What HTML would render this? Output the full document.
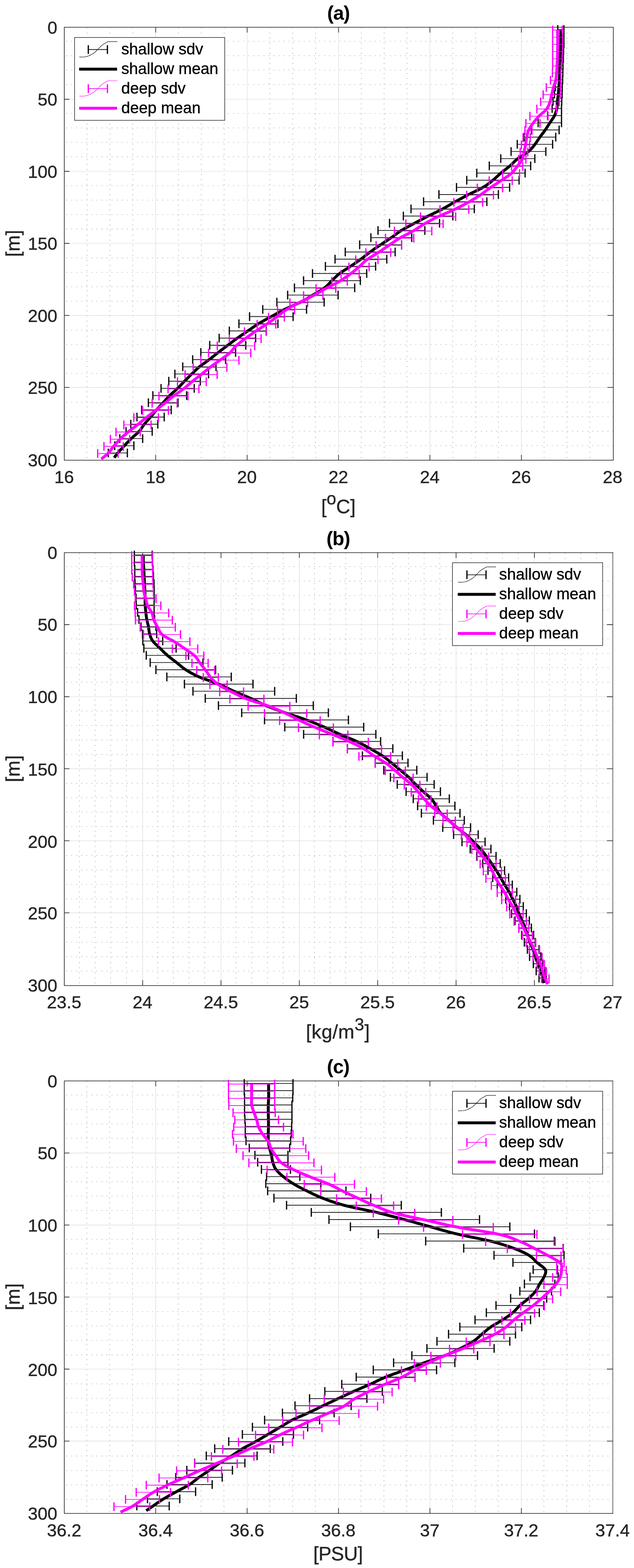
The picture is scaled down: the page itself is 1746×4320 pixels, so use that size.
<!DOCTYPE html>
<html lang="en">
<head>
<meta charset="utf-8">
<title>Shallow vs deep profiles</title>
<style>
html,body{margin:0;padding:0;background:#fff;}
body{width:1746px;height:4320px;overflow:hidden;}
svg{display:block;}
text{font-family:'Liberation Sans', sans-serif;}
.mn{fill:none;stroke:#c5c5c5;stroke-dasharray:3.2 10.72;}
.mnv{stroke-width:2.1;}
.mnh{stroke-width:1.8;stroke-dasharray:3.2 10.736;}
.axr{fill:none;stroke:#8c8c8c;stroke-width:2.9;}
.mj{fill:none;stroke:#e2e2e2;stroke-width:1.7;}
.ax{fill:none;stroke:#2a2a2a;stroke-width:1.8;stroke-linejoin:miter;}
.eb{fill:none;stroke-width:1.9;}
.cp{fill:none;stroke-width:3.5;}
.ic{fill:none;stroke-width:1.2;}
.mean{fill:none;stroke-width:8;stroke-linejoin:round;stroke-linecap:butt;}
.k{stroke:#000;}
.eb.k,.cp.k{stroke:#0a0a0a;}
.m{stroke:#ff00ff;}
.tl{font-size:48.7px;fill:#262626;stroke:#262626;stroke-width:0.6px;}
.al{font-size:53.6px;fill:#262626;stroke:#262626;stroke-width:0.6px;}
.sup{font-size:47.5px;}
.tt{font-size:53.4px;font-weight:bold;fill:#000;letter-spacing:-1.2px;}
.lt{font-size:43.7px;fill:#000;stroke:#000;stroke-width:0.5px;}
.lb{fill:#fff;stroke:#262626;stroke-width:1.6;}
</style>
</head>
<body>
<svg width="1746" height="4320" viewBox="0 0 1746 4320">
<rect x="0" y="0" width="1746" height="4320" fill="#fff"/>
<g class="panel" id="panel-a">
<path class="mn mnv" d="M239.7,75.6 V1267.9 M302.7,75.6 V1267.9 M365.6,75.6 V1267.9 M491.5,75.6 V1267.9 M554.4,75.6 V1267.9 M617.3,75.6 V1267.9 M743.2,75.6 V1267.9 M806.1,75.6 V1267.9 M869.1,75.6 V1267.9 M994.9,75.6 V1267.9 M1057.9,75.6 V1267.9 M1120.8,75.6 V1267.9 M1246.7,75.6 V1267.9 M1309.6,75.6 V1267.9 M1372.5,75.6 V1267.9 M1498.4,75.6 V1267.9 M1561.3,75.6 V1267.9 M1624.3,75.6 V1267.9"/>
<path class="mn mnh" d="M181.6,113.7 H1689 M181.6,153.5 H1689 M181.6,193.3 H1689 M181.6,233.1 H1689 M181.6,312.6 H1689 M181.6,352.4 H1689 M181.6,392.2 H1689 M181.6,432 H1689 M181.6,511.6 H1689 M181.6,551.4 H1689 M181.6,591.2 H1689 M181.6,631 H1689 M181.6,710.5 H1689 M181.6,750.3 H1689 M181.6,790.1 H1689 M181.6,829.9 H1689 M181.6,909.5 H1689 M181.6,949.3 H1689 M181.6,989.1 H1689 M181.6,1028.9 H1689 M181.6,1108.4 H1689 M181.6,1148.2 H1689 M181.6,1188 H1689 M181.6,1227.8 H1689"/>
<path class="mj" d="M428.8,75.1 V1267.9 M680.6,75.1 V1267.9 M932.3,75.1 V1267.9 M1184,75.1 V1267.9 M1435.8,75.1 V1267.9 M177.1,273.5 H1689 M177.1,472 H1689 M177.1,670.5 H1689 M177.1,868.9 H1689 M177.1,1067.3 H1689"/>
<path class="ax" d="M177.1,75.1 H1689 V1267.9 H177.1 Z M428.8,1267.9 v-14.7 M428.8,75.1 v14.7 M680.6,1267.9 v-14.7 M680.6,75.1 v14.7 M932.3,1267.9 v-14.7 M932.3,75.1 v14.7 M1184,1267.9 v-14.7 M1184,75.1 v14.7 M1435.8,1267.9 v-14.7 M1435.8,75.1 v14.7 M177.1,273.5 h14.2 M1689,273.5 h-16.2 M177.1,472 h14.2 M1689,472 h-16.2 M177.1,670.5 h14.2 M1689,670.5 h-16.2 M177.1,868.9 h14.2 M1689,868.9 h-16.2 M177.1,1067.3 h14.2 M1689,1067.3 h-16.2"/>
<path class="eb k" d="M1536,81.2 H1553 M1536,101 H1553 M1535.5,120.7 H1553 M1535,140.5 H1552 M1534.5,160.3 H1551.5 M1534,180.1 H1550.5 M1533,199.8 H1550 M1531.5,219.6 H1549.5 M1529.5,239.4 H1548.5 M1527,259.2 H1548 M1523,278.9 H1547 M1520.5,298.7 H1546.4 M1508,318.5 H1546.4 M1482,338.3 H1546.4 M1463.4,358 H1539.8 M1443.2,377.8 H1530.5 M1424.5,397.6 H1521.9 M1407.5,417.4 H1503.2 M1379,437.1 H1472.9 M1347.5,456.9 H1461.4 M1313,476.7 H1446.1 M1285.4,496.5 H1429.5 M1257.2,516.2 H1403.5 M1208.8,536 H1372.5 M1166.5,555.8 H1340.8 M1131.9,575.6 H1306.2 M1110.8,595.3 H1247.1 M1072.7,615.1 H1210.5 M1041,634.9 H1170 M1021.4,654.7 H1133.8 M990.5,674.5 H1105.8 M950.8,694.2 H1088.2 M922.7,714 H1065.2 M896.2,733.8 H1034.4 M860.6,753.5 H1009.9 M836,773.3 H992.3 M810.9,793.1 H976.8 M792.2,812.9 H931.1 M762.5,832.6 H892.7 M723.6,852.4 H844.2 M687.3,872.2 H807.2 M658,892 H765.4 M631.6,911.8 H733.4 M603.5,931.5 H704 M577.6,951.3 H676.8 M553.1,971.1 H648.8 M530.6,990.8 H621.4 M503.3,1010.6 H594.9 M481.6,1030.4 H574.4 M464.8,1050.2 H551.6 M443.5,1069.9 H534.9 M421,1089.7 H513.8 M408.6,1109.5 H490.2 M390.2,1129.3 H471.5 M377.2,1149 H452.2 M360.2,1168.8 H434.6 M347.1,1188.6 H419.1 M329.9,1208.4 H392.9 M315.9,1228.1 H368.7 M298.2,1247.9 H350.7"/>
<path class="cp k" d="M1536,69.2 v24 M1553,69.2 v24 M1536,89 v24 M1553,89 v24 M1535.5,108.7 v24 M1553,108.7 v24 M1535,128.5 v24 M1552,128.5 v24 M1534.5,148.3 v24 M1551.5,148.3 v24 M1534,168.1 v24 M1550.5,168.1 v24 M1533,187.8 v24 M1550,187.8 v24 M1531.5,207.6 v24 M1549.5,207.6 v24 M1529.5,227.4 v24 M1548.5,227.4 v24 M1527,247.2 v24 M1548,247.2 v24 M1523,266.9 v24 M1547,266.9 v24 M1520.5,286.7 v24 M1546.4,286.7 v24 M1508,306.5 v24 M1546.4,306.5 v24 M1482,326.3 v24 M1546.4,326.3 v24 M1463.4,346 v24 M1539.8,346 v24 M1443.2,365.8 v24 M1530.5,365.8 v24 M1424.5,385.6 v24 M1521.9,385.6 v24 M1407.5,405.4 v24 M1503.2,405.4 v24 M1379,425.1 v24 M1472.9,425.1 v24 M1347.5,444.9 v24 M1461.4,444.9 v24 M1313,464.7 v24 M1446.1,464.7 v24 M1285.4,484.5 v24 M1429.5,484.5 v24 M1257.2,504.2 v24 M1403.5,504.2 v24 M1208.8,524 v24 M1372.5,524 v24 M1166.5,543.8 v24 M1340.8,543.8 v24 M1131.9,563.6 v24 M1306.2,563.6 v24 M1110.8,583.3 v24 M1247.1,583.3 v24 M1072.7,603.1 v24 M1210.5,603.1 v24 M1041,622.9 v24 M1170,622.9 v24 M1021.4,642.7 v24 M1133.8,642.7 v24 M990.5,662.5 v24 M1105.8,662.5 v24 M950.8,682.2 v24 M1088.2,682.2 v24 M922.7,702 v24 M1065.2,702 v24 M896.2,721.8 v24 M1034.4,721.8 v24 M860.6,741.5 v24 M1009.9,741.5 v24 M836,761.3 v24 M992.3,761.3 v24 M810.9,781.1 v24 M976.8,781.1 v24 M792.2,800.9 v24 M931.1,800.9 v24 M762.5,820.6 v24 M892.7,820.6 v24 M723.6,840.4 v24 M844.2,840.4 v24 M687.3,860.2 v24 M807.2,860.2 v24 M658,880 v24 M765.4,880 v24 M631.6,899.8 v24 M733.4,899.8 v24 M603.5,919.5 v24 M704,919.5 v24 M577.6,939.3 v24 M676.8,939.3 v24 M553.1,959.1 v24 M648.8,959.1 v24 M530.6,978.8 v24 M621.4,978.8 v24 M503.3,998.6 v24 M594.9,998.6 v24 M481.6,1018.4 v24 M574.4,1018.4 v24 M464.8,1038.2 v24 M551.6,1038.2 v24 M443.5,1057.9 v24 M534.9,1057.9 v24 M421,1077.7 v24 M513.8,1077.7 v24 M408.6,1097.5 v24 M490.2,1097.5 v24 M390.2,1117.3 v24 M471.5,1117.3 v24 M377.2,1137 v24 M452.2,1137 v24 M360.2,1156.8 v24 M434.6,1156.8 v24 M347.1,1176.6 v24 M419.1,1176.6 v24 M329.9,1196.4 v24 M392.9,1196.4 v24 M315.9,1216.1 v24 M368.7,1216.1 v24 M298.2,1235.9 v24 M350.7,1235.9 v24"/>
<path class="mean k" d="M1544.5,81.2 L1544.5,83.4 L1544.5,86.3 L1544.5,89.9 L1544.5,93.7 L1544.5,97.5 L1544.5,101 L1544.5,104.3 L1544.5,107.6 L1544.4,110.9 L1544.4,114.2 L1544.3,117.5 L1544.2,120.7 L1544.2,124 L1544,127.3 L1543.9,130.6 L1543.8,133.9 L1543.6,137.2 L1543.5,140.5 L1543.4,143.8 L1543.3,147.1 L1543.2,150.4 L1543.2,153.7 L1543.1,157 L1543,160.3 L1542.9,163.6 L1542.8,166.9 L1542.6,170.2 L1542.5,173.5 L1542.4,176.8 L1542.2,180.1 L1542.1,183.4 L1542,186.7 L1541.9,190 L1541.8,193.3 L1541.6,196.6 L1541.5,199.8 L1541.4,203.1 L1541.2,206.4 L1541,209.7 L1540.9,213 L1540.7,216.3 L1540.5,219.6 L1540.3,222.9 L1540,226.2 L1539.8,229.5 L1539.5,232.8 L1539.3,236.1 L1539,239.4 L1538.8,242.7 L1538.5,246 L1538.3,249.3 L1538.1,252.6 L1537.8,255.9 L1537.5,259.2 L1537.1,262.5 L1536.7,265.8 L1536.3,269.1 L1535.8,272.4 L1535.4,275.7 L1535,278.9 L1534.7,282.2 L1534.6,285.5 L1534.5,288.8 L1534.3,292.1 L1534,295.4 L1533.5,298.7 L1532.8,302 L1532,305.3 L1531,308.6 L1530,311.9 L1528.7,315.2 L1527.2,318.5 L1525.4,321.8 L1523.4,325.1 L1521.1,328.4 L1518.8,331.7 L1516.4,335 L1514.2,338.3 L1512.1,341.6 L1510,344.9 L1508,348.2 L1505.9,351.5 L1503.8,354.8 L1501.6,358 L1499.3,361.3 L1496.8,364.6 L1494.3,367.9 L1491.8,371.2 L1489.3,374.5 L1486.8,377.8 L1484.6,381.1 L1482.4,384.4 L1480.2,387.7 L1478,391 L1475.7,394.3 L1473.2,397.6 L1470.6,400.9 L1468,404.2 L1465.3,407.5 L1462.3,410.8 L1459,414.1 L1455.3,417.4 L1451,420.7 L1446.1,424 L1440.9,427.3 L1435.6,430.6 L1430.5,433.9 L1426,437.1 L1421.9,440.4 L1418.3,443.7 L1414.9,447 L1411.6,450.3 L1408.1,453.6 L1404.5,456.9 L1400.5,460.2 L1396.3,463.5 L1392,466.8 L1387.8,470.1 L1383.6,473.4 L1379.5,476.7 L1375.8,480 L1372.2,483.3 L1368.6,486.6 L1365.1,489.9 L1361.4,493.2 L1357.5,496.5 L1353.4,499.8 L1349.3,503.1 L1345,506.4 L1340.5,509.7 L1335.7,513 L1330.3,516.2 L1324.4,519.5 L1318,522.8 L1311.1,526.1 L1304.2,529.4 L1297.3,532.7 L1290.7,536 L1284.3,539.3 L1278,542.6 L1271.8,545.9 L1265.7,549.2 L1259.6,552.5 L1253.7,555.8 L1247.8,559.1 L1242.1,562.4 L1236.5,565.7 L1230.9,569 L1225.1,572.3 L1219.1,575.6 L1212.7,578.9 L1206,582.2 L1199.2,585.5 L1192.3,588.8 L1185.5,592.1 L1178.9,595.3 L1172.6,598.6 L1166.2,601.9 L1160,605.2 L1153.9,608.5 L1147.7,611.8 L1141.6,615.1 L1135.4,618.4 L1129.2,621.7 L1123,625 L1116.9,628.3 L1111,631.6 L1105.5,634.9 L1100.4,638.2 L1095.6,641.5 L1091.1,644.8 L1086.7,648.1 L1082.2,651.4 L1077.6,654.7 L1072.8,658 L1067.9,661.3 L1062.9,664.6 L1058,667.9 L1053,671.2 L1048.2,674.5 L1043.3,677.7 L1038.4,681 L1033.6,684.3 L1028.8,687.6 L1024.1,690.9 L1019.5,694.2 L1015.1,697.5 L1010.9,700.8 L1006.7,704.1 L1002.6,707.4 L998.4,710.7 L994,714 L989.4,717.3 L984.7,720.6 L979.9,723.9 L975.1,727.2 L970.2,730.5 L965.3,733.8 L960.3,737.1 L955.1,740.4 L949.8,743.7 L944.7,747 L939.8,750.3 L935.2,753.5 L931.2,756.8 L927.5,760.1 L924.1,763.4 L920.8,766.7 L917.5,770 L914.1,773.3 L910.9,776.6 L907.8,779.9 L904.7,783.2 L901.5,786.5 L897.9,789.8 L893.8,793.1 L889.2,796.4 L884.1,799.7 L878.6,803 L873,806.3 L867.3,809.6 L861.7,812.9 L856.2,816.2 L850.8,819.5 L845.3,822.8 L839.7,826.1 L833.9,829.4 L827.6,832.6 L820.8,835.9 L813.5,839.2 L805.9,842.5 L798.3,845.8 L790.9,849.1 L783.9,852.4 L777.4,855.7 L771.1,859 L765.1,862.3 L759.1,865.6 L753.2,868.9 L747.2,872.2 L741.2,875.5 L735.1,878.8 L729,882.1 L723,885.4 L717.2,888.7 L711.7,892 L706.5,895.3 L701.5,898.6 L696.7,901.9 L692,905.2 L687.3,908.5 L682.5,911.8 L677.7,915 L672.8,918.3 L668,921.6 L663.2,924.9 L658.4,928.2 L653.8,931.5 L649.2,934.8 L644.7,938.1 L640.3,941.4 L635.9,944.7 L631.6,948 L627.2,951.3 L622.8,954.6 L618.4,957.9 L614,961.2 L609.6,964.5 L605.2,967.8 L601,971.1 L596.7,974.4 L592.6,977.7 L588.5,981 L584.4,984.3 L580.3,987.6 L576,990.8 L571.6,994.1 L567,997.4 L562.3,1000.7 L557.7,1004 L553.3,1007.3 L549.1,1010.6 L545.2,1013.9 L541.6,1017.2 L538.1,1020.5 L534.7,1023.8 L531.4,1027.1 L528,1030.4 L524.6,1033.7 L521.3,1037 L518,1040.3 L514.7,1043.6 L511.4,1046.9 L508.2,1050.2 L505,1053.5 L501.9,1056.8 L498.8,1060.1 L495.7,1063.4 L492.5,1066.7 L489.2,1069.9 L485.7,1073.2 L482,1076.5 L478.2,1079.8 L474.5,1083.1 L470.8,1086.4 L467.4,1089.7 L464.2,1093 L461.1,1096.3 L458.2,1099.6 L455.3,1102.9 L452.4,1106.2 L449.4,1109.5 L446.3,1112.8 L443.2,1116.1 L440,1119.4 L436.9,1122.7 L433.8,1126 L430.9,1129.3 L428,1132.6 L425.3,1135.9 L422.7,1139.2 L420.1,1142.5 L417.4,1145.8 L414.7,1149 L411.8,1152.3 L408.9,1155.6 L405.9,1158.9 L403,1162.2 L400.1,1165.5 L397.4,1168.8 L394.9,1172.1 L392.7,1175.4 L390.5,1178.7 L388.3,1182 L385.9,1185.3 L383.1,1188.6 L379.9,1191.9 L376.3,1195.2 L372.6,1198.5 L368.7,1201.8 L365,1205.1 L361.4,1208.4 L358.1,1211.7 L354.8,1215 L351.6,1218.3 L348.5,1221.6 L345.4,1224.9 L342.3,1228.1 L339.2,1231.5 L336,1235 L332.8,1238.5 L329.8,1241.8 L327,1245 L324.4,1247.9 L322.2,1250.6 L320.2,1253.3 L318.4,1255.7 L316.8,1257.9 L315.5,1259.7 L314.5,1261"/>
<path class="eb m" d="M1522,82.8 H1548.4 M1522,102.6 H1549.5 M1522,122.3 H1549.5 M1522,142.1 H1549 M1522,161.9 H1548 M1522,181.7 H1546 M1521.3,201.4 H1544.6 M1516,221.2 H1544.6 M1504.5,241 H1543.8 M1495.7,260.8 H1542.9 M1489,280.6 H1540.3 M1478.5,300.3 H1532.3 M1459.4,320.1 H1509.1 M1448.3,339.9 H1487.2 M1445.6,359.6 H1465.1 M1440.4,379.4 H1460.3 M1436,399.2 H1458.6 M1432.6,419 H1453.4 M1428.3,438.8 H1448.2 M1409.1,458.5 H1439.5 M1384.3,478.3 H1430.8 M1347.2,498.1 H1410.6 M1314.6,517.9 H1384.3 M1285.2,537.6 H1359 M1250,557.4 H1329.3 M1211.7,577.2 H1291 M1158,596.9 H1254.9 M1117.7,616.7 H1220.3 M1086.2,636.5 H1189.1 M1061.7,656.3 H1139.5 M1035.8,676.1 H1105.8 M1007.6,695.8 H1076.1 M979.6,715.6 H1041 M960.9,735.4 H1016.5 M939.2,755.1 H989.1 M913.8,774.9 H956.5 M870.5,794.7 H924.7 M836,814.5 H889.3 M798.5,834.2 H847.2 M764.2,854 H811.2 M739.6,873.8 H783 M708.1,893.6 H759.4 M673.2,913.4 H732.9 M631.6,933.1 H719 M598.3,952.9 H701.4 M574.4,972.7 H690.6 M553.1,992.4 H658 M532,1012.2 H624.8 M509.7,1032 H598 M488.8,1051.8 H568 M462.8,1071.5 H547.8 M437.8,1091.3 H517.6 M419,1111.1 H487.9 M392.8,1130.9 H463.7 M368.6,1150.6 H436.3 M341.1,1170.4 H416 M319.4,1190.2 H386.2 M304,1210 H357.2 M286.3,1229.7 H339.5 M269,1249.5 H325.1"/>
<path class="cp m" d="M1522,70.8 v24 M1548.4,70.8 v24 M1522,90.6 v24 M1549.5,90.6 v24 M1522,110.3 v24 M1549.5,110.3 v24 M1522,130.1 v24 M1549,130.1 v24 M1522,149.9 v24 M1548,149.9 v24 M1522,169.7 v24 M1546,169.7 v24 M1521.3,189.4 v24 M1544.6,189.4 v24 M1516,209.2 v24 M1544.6,209.2 v24 M1504.5,229 v24 M1543.8,229 v24 M1495.7,248.8 v24 M1542.9,248.8 v24 M1489,268.6 v24 M1540.3,268.6 v24 M1478.5,288.3 v24 M1532.3,288.3 v24 M1459.4,308.1 v24 M1509.1,308.1 v24 M1448.3,327.9 v24 M1487.2,327.9 v24 M1445.6,347.6 v24 M1465.1,347.6 v24 M1440.4,367.4 v24 M1460.3,367.4 v24 M1436,387.2 v24 M1458.6,387.2 v24 M1432.6,407 v24 M1453.4,407 v24 M1428.3,426.8 v24 M1448.2,426.8 v24 M1409.1,446.5 v24 M1439.5,446.5 v24 M1384.3,466.3 v24 M1430.8,466.3 v24 M1347.2,486.1 v24 M1410.6,486.1 v24 M1314.6,505.9 v24 M1384.3,505.9 v24 M1285.2,525.6 v24 M1359,525.6 v24 M1250,545.4 v24 M1329.3,545.4 v24 M1211.7,565.2 v24 M1291,565.2 v24 M1158,584.9 v24 M1254.9,584.9 v24 M1117.7,604.7 v24 M1220.3,604.7 v24 M1086.2,624.5 v24 M1189.1,624.5 v24 M1061.7,644.3 v24 M1139.5,644.3 v24 M1035.8,664.1 v24 M1105.8,664.1 v24 M1007.6,683.8 v24 M1076.1,683.8 v24 M979.6,703.6 v24 M1041,703.6 v24 M960.9,723.4 v24 M1016.5,723.4 v24 M939.2,743.1 v24 M989.1,743.1 v24 M913.8,762.9 v24 M956.5,762.9 v24 M870.5,782.7 v24 M924.7,782.7 v24 M836,802.5 v24 M889.3,802.5 v24 M798.5,822.2 v24 M847.2,822.2 v24 M764.2,842 v24 M811.2,842 v24 M739.6,861.8 v24 M783,861.8 v24 M708.1,881.6 v24 M759.4,881.6 v24 M673.2,901.4 v24 M732.9,901.4 v24 M631.6,921.1 v24 M719,921.1 v24 M598.3,940.9 v24 M701.4,940.9 v24 M574.4,960.7 v24 M690.6,960.7 v24 M553.1,980.4 v24 M658,980.4 v24 M532,1000.2 v24 M624.8,1000.2 v24 M509.7,1020 v24 M598,1020 v24 M488.8,1039.8 v24 M568,1039.8 v24 M462.8,1059.5 v24 M547.8,1059.5 v24 M437.8,1079.3 v24 M517.6,1079.3 v24 M419,1099.1 v24 M487.9,1099.1 v24 M392.8,1118.9 v24 M463.7,1118.9 v24 M368.6,1138.6 v24 M436.3,1138.6 v24 M341.1,1158.4 v24 M416,1158.4 v24 M319.4,1178.2 v24 M386.2,1178.2 v24 M304,1198 v24 M357.2,1198 v24 M286.3,1217.7 v24 M339.5,1217.7 v24 M269,1237.5 v24 M325.1,1237.5 v24"/>
<path class="mean m" d="M1535.2,82.8 L1535.3,85 L1535.4,87.9 L1535.5,91.5 L1535.6,95.3 L1535.7,99.1 L1535.8,102.6 L1535.8,105.9 L1535.8,109.2 L1535.8,112.5 L1535.8,115.8 L1535.8,119.1 L1535.8,122.3 L1535.7,125.6 L1535.7,128.9 L1535.7,132.2 L1535.6,135.5 L1535.6,138.8 L1535.5,142.1 L1535.4,145.4 L1535.4,148.7 L1535.3,152 L1535.2,155.3 L1535.1,158.6 L1535,161.9 L1534.9,165.2 L1534.7,168.5 L1534.5,171.8 L1534.4,175.1 L1534.2,178.4 L1534,181.7 L1533.8,185 L1533.7,188.3 L1533.6,191.6 L1533.4,194.9 L1533.2,198.2 L1532.9,201.4 L1532.6,204.7 L1532.3,208 L1531.9,211.3 L1531.5,214.6 L1531,217.9 L1530.3,221.2 L1529.5,224.5 L1528.5,227.8 L1527.4,231.1 L1526.2,234.4 L1525.1,237.7 L1524.2,241 L1523.3,244.3 L1522.4,247.6 L1521.6,250.9 L1520.9,254.2 L1520.1,257.5 L1519.3,260.8 L1518.6,264.1 L1517.9,267.4 L1517.3,270.7 L1516.5,274 L1515.7,277.3 L1514.7,280.6 L1513.5,283.8 L1512.3,287.1 L1511.1,290.4 L1509.5,293.7 L1507.7,297 L1505.4,300.3 L1502.5,303.6 L1499.1,306.9 L1495.3,310.2 L1491.4,313.5 L1487.6,316.8 L1484.2,320.1 L1481.2,323.4 L1478.3,326.7 L1475.5,330 L1472.8,333.3 L1470.2,336.6 L1467.8,339.9 L1465.4,343.2 L1463,346.5 L1460.8,349.8 L1458.8,353.1 L1456.9,356.4 L1455.3,359.6 L1454.1,362.9 L1453.1,366.2 L1452.3,369.5 L1451.6,372.8 L1451,376.1 L1450.3,379.4 L1449.7,382.7 L1449.2,386 L1448.8,389.3 L1448.3,392.6 L1447.9,395.9 L1447.3,399.2 L1446.7,402.5 L1446,405.8 L1445.3,409.1 L1444.5,412.4 L1443.8,415.7 L1443,419 L1442.3,422.3 L1441.8,425.6 L1441.2,428.9 L1440.5,432.2 L1439.6,435.5 L1438.2,438.8 L1436.5,442 L1434.4,445.3 L1432,448.6 L1429.5,451.9 L1426.9,455.2 L1424.3,458.5 L1421.8,461.8 L1419.4,465.1 L1416.8,468.4 L1414.1,471.7 L1411.1,475 L1407.5,478.3 L1403.5,481.6 L1398.9,484.9 L1394,488.2 L1389,491.5 L1383.9,494.8 L1378.9,498.1 L1374,501.4 L1369.1,504.7 L1364.1,508 L1359.1,511.3 L1354.2,514.6 L1349.4,517.9 L1344.8,521.1 L1340.4,524.4 L1336,527.7 L1331.5,531 L1326.9,534.3 L1322.1,537.6 L1317.1,540.9 L1311.9,544.2 L1306.6,547.5 L1301.1,550.8 L1295.5,554.1 L1289.7,557.4 L1283.7,560.7 L1277.6,564 L1271.3,567.3 L1264.8,570.6 L1258.2,573.9 L1251.3,577.2 L1244.2,580.5 L1236.6,583.8 L1228.8,587.1 L1221.1,590.4 L1213.6,593.7 L1206.5,596.9 L1199.7,600.2 L1193.2,603.5 L1186.9,606.8 L1180.8,610.1 L1174.8,613.4 L1169,616.7 L1163.5,620 L1158.3,623.3 L1153.3,626.6 L1148.3,629.9 L1143.1,633.2 L1137.7,636.5 L1131.7,639.8 L1125.5,643.1 L1119,646.4 L1112.6,649.7 L1106.4,653 L1100.6,656.3 L1095.2,659.6 L1090.1,662.9 L1085.2,666.2 L1080.4,669.5 L1075.6,672.8 L1070.8,676.1 L1066,679.3 L1061.2,682.6 L1056.4,685.9 L1051.7,689.2 L1046.8,692.5 L1041.8,695.8 L1036.6,699.1 L1031.2,702.4 L1025.6,705.7 L1020.2,709 L1015,712.3 L1010.3,715.6 L1006.2,718.9 L1002.5,722.2 L999.1,725.5 L995.8,728.8 L992.4,732.1 L988.7,735.4 L984.8,738.7 L980.9,742 L976.9,745.3 L972.8,748.6 L968.5,751.9 L964.2,755.1 L959.7,758.4 L955.1,761.7 L950.5,765 L945.6,768.3 L940.5,771.6 L935.1,774.9 L929.4,778.2 L923.2,781.5 L916.7,784.8 L910.2,788.1 L903.8,791.4 L897.6,794.7 L891.7,798 L885.9,801.3 L880.3,804.6 L874.6,807.9 L868.7,811.2 L862.6,814.5 L856.2,817.8 L849.6,821.1 L842.8,824.4 L836,827.7 L829.3,831 L822.9,834.2 L816.6,837.5 L810.5,840.8 L804.4,844.1 L798.6,847.4 L793,850.7 L787.7,854 L782.8,857.3 L778.3,860.6 L774,863.9 L769.9,867.2 L765.7,870.5 L761.3,873.8 L756.8,877.1 L752.3,880.4 L747.8,883.7 L743.2,887 L738.5,890.3 L733.8,893.6 L728.8,896.9 L723.6,900.2 L718.4,903.5 L713.2,906.8 L708,910.1 L703,913.4 L698.2,916.6 L693.5,919.9 L688.8,923.2 L684.3,926.5 L679.8,929.8 L675.3,933.1 L670.8,936.4 L666.3,939.7 L661.9,943 L657.6,946.3 L653.6,949.6 L649.8,952.9 L646.6,956.2 L643.8,959.5 L641.3,962.8 L638.7,966.1 L635.9,969.4 L632.5,972.7 L628.6,976 L624.2,979.3 L619.6,982.6 L614.9,985.9 L610.2,989.2 L605.5,992.4 L601,995.7 L596.4,999 L591.8,1002.3 L587.3,1005.6 L582.8,1008.9 L578.4,1012.2 L574.2,1015.5 L570.1,1018.8 L566,1022.1 L562,1025.4 L558,1028.7 L553.9,1032 L549.6,1035.3 L545.3,1038.6 L541,1041.9 L536.7,1045.2 L532.5,1048.5 L528.4,1051.8 L524.5,1055.1 L520.7,1058.4 L517,1061.7 L513.2,1065 L509.4,1068.3 L505.3,1071.5 L500.9,1074.8 L496.3,1078.1 L491.6,1081.4 L486.8,1084.7 L482.2,1088 L477.7,1091.3 L473.5,1094.6 L469.4,1097.9 L465.4,1101.2 L461.5,1104.5 L457.5,1107.8 L453.4,1111.1 L449.3,1114.4 L445.1,1117.7 L440.9,1121 L436.7,1124.3 L432.5,1127.6 L428.2,1130.9 L424,1134.2 L419.6,1137.5 L415.3,1140.8 L410.9,1144.1 L406.6,1147.4 L402.5,1150.6 L398.4,1153.9 L394.4,1157.2 L390.5,1160.5 L386.6,1163.8 L382.6,1167.1 L378.6,1170.4 L374.3,1173.7 L370,1177 L365.6,1180.3 L361.2,1183.6 L356.9,1186.9 L352.8,1190.2 L348.8,1193.5 L345,1196.8 L341.2,1200.1 L337.5,1203.4 L334,1206.7 L330.6,1210 L327.4,1213.3 L324.3,1216.6 L321.4,1219.9 L318.5,1223.2 L315.7,1226.5 L312.9,1229.7 L310.2,1233.1 L307.6,1236.5 L305,1239.9 L302.4,1243.3 L299.8,1246.5 L297.1,1249.5 L294,1252.5 L290.5,1255.4 L287,1258.2 L283.8,1260.8 L281,1262.9 L279,1264.5"/>
<text class="tl" x="176.6" y="1330.7" text-anchor="middle">16</text>
<text class="tl" x="428.3" y="1330.7" text-anchor="middle">18</text>
<text class="tl" x="680.1" y="1330.7" text-anchor="middle">20</text>
<text class="tl" x="931.8" y="1330.7" text-anchor="middle">22</text>
<text class="tl" x="1183.5" y="1330.7" text-anchor="middle">24</text>
<text class="tl" x="1435.3" y="1330.7" text-anchor="middle">26</text>
<text class="tl" x="1687" y="1330.7" text-anchor="middle">28</text>
<text class="tl" x="157.9" y="92.8" text-anchor="end">0</text>
<text class="tl" x="157.9" y="291.2" text-anchor="end">50</text>
<text class="tl" x="157.9" y="489.7" text-anchor="end">100</text>
<text class="tl" x="157.9" y="688.1" text-anchor="end">150</text>
<text class="tl" x="157.9" y="886.6" text-anchor="end">200</text>
<text class="tl" x="157.9" y="1085" text-anchor="end">250</text>
<text class="tl" x="157.9" y="1285.3" text-anchor="end">300</text>
<text class="tt" x="931.9" y="54.1" text-anchor="middle">(a)</text>
<text class="al" transform="translate(53.5,670.5) rotate(-90)" text-anchor="middle">[m]</text>
<text class="al" x="932" y="1413.9" text-anchor="middle">[<tspan class="sup" dy="-24">o</tspan><tspan dy="24">C]</tspan></text>
<g class="legend" transform="translate(205.4,103.3)">
<rect class="lb" x="0" y="0" width="413.5" height="228.2"/>
<g transform="translate(0,0)">
<path class="eb k" d="M38,33.2 H90.5"/>
<path class="cp k" d="M37.8,21.2 v24 M90.4,21.2 v24"/>
<path class="ic k" d="M13,53.8 L15.5,53.8 L19,53.8 L22.9,53.8 L26.5,53.5 L29.6,53.1 L32.5,52.6 L35.4,51.8 L38.6,50.7 L42.2,49.1 L46.1,47.1 L49.9,44.9 L53.4,42.6 L56.4,40.2 L59.1,37.7 L61.6,35.1 L64.2,32.5 L66.9,29.8 L69.6,26.9 L72.2,24.2 L74.9,21.8 L77.7,19.8 L80.5,18 L83.3,16.5 L85.7,15.1 L87.6,13.9 L89.2,12.9 L90.8,12.2 L92.4,11.6 L94,11.3 L95.5,11.3 L97.4,11.4 L100,11.4 L104.2,11.4 L109.4,11.4 L114.4,11.4 L117.9,11.4"/>
</g>
<text class="lt" x="128.5" y="46.8">shallow sdv</text>
<g transform="translate(0,0)">
<path class="mean k" d="M12.5,87.1 H117"/>
</g>
<text class="lt" x="128.5" y="100.7">shallow mean</text>
<g transform="translate(0,0)">
<path class="eb m" d="M38,141 H90.5"/>
<path class="cp m" d="M37.8,129 v24 M90.4,129 v24"/>
<path class="ic m" d="M13,161.6 L15.5,161.6 L19,161.6 L22.9,161.6 L26.5,161.3 L29.6,160.9 L32.5,160.4 L35.4,159.6 L38.6,158.5 L42.2,156.9 L46.1,154.9 L49.9,152.7 L53.4,150.4 L56.4,148 L59.1,145.5 L61.6,142.9 L64.2,140.3 L66.9,137.6 L69.6,134.7 L72.2,132 L74.9,129.6 L77.7,127.6 L80.5,125.8 L83.3,124.3 L85.7,122.9 L87.6,121.7 L89.2,120.7 L90.8,120 L92.4,119.4 L94,119.1 L95.5,119.1 L97.4,119.2 L100,119.2 L104.2,119.2 L109.4,119.2 L114.4,119.2 L117.9,119.2"/>
</g>
<text class="lt" x="128.5" y="154.6">deep sdv</text>
<g transform="translate(0,0)">
<path class="mean m" d="M12.5,194.9 H117"/>
</g>
<text class="lt" x="128.5" y="208.5">deep mean</text>
</g>
</g>
<g class="panel" id="panel-b">
<path class="mn mnv" d="M218.7,1523.1 V2715.3 M261.8,1523.1 V2715.3 M305,1523.1 V2715.3 M348.1,1523.1 V2715.3 M434.4,1523.1 V2715.3 M477.6,1523.1 V2715.3 M520.7,1523.1 V2715.3 M563.9,1523.1 V2715.3 M650.2,1523.1 V2715.3 M693.4,1523.1 V2715.3 M736.5,1523.1 V2715.3 M779.7,1523.1 V2715.3 M866,1523.1 V2715.3 M909.1,1523.1 V2715.3 M952.3,1523.1 V2715.3 M995.4,1523.1 V2715.3 M1081.7,1523.1 V2715.3 M1124.9,1523.1 V2715.3 M1168,1523.1 V2715.3 M1211.2,1523.1 V2715.3 M1297.5,1523.1 V2715.3 M1340.7,1523.1 V2715.3 M1383.8,1523.1 V2715.3 M1427,1523.1 V2715.3 M1513.3,1523.1 V2715.3 M1556.4,1523.1 V2715.3 M1599.6,1523.1 V2715.3 M1642.7,1523.1 V2715.3"/>
<path class="mn mnh" d="M181.6,1561.2 H1687.6 M181.6,1601 H1687.6 M181.6,1640.8 H1687.6 M181.6,1680.6 H1687.6 M181.6,1760.1 H1687.6 M181.6,1799.9 H1687.6 M181.6,1839.7 H1687.6 M181.6,1879.5 H1687.6 M181.6,1959.1 H1687.6 M181.6,1998.9 H1687.6 M181.6,2038.7 H1687.6 M181.6,2078.5 H1687.6 M181.6,2158 H1687.6 M181.6,2197.8 H1687.6 M181.6,2237.6 H1687.6 M181.6,2277.4 H1687.6 M181.6,2357 H1687.6 M181.6,2396.8 H1687.6 M181.6,2436.6 H1687.6 M181.6,2476.4 H1687.6 M181.6,2555.9 H1687.6 M181.6,2595.7 H1687.6 M181.6,2635.5 H1687.6 M181.6,2675.3 H1687.6"/>
<path class="mj" d="M392.9,1522.6 V2715.3 M608.6,1522.6 V2715.3 M824.4,1522.6 V2715.3 M1040.2,1522.6 V2715.3 M1256,1522.6 V2715.3 M1471.7,1522.6 V2715.3 M177.1,1721 H1687.6 M177.1,1919.5 H1687.6 M177.1,2117.9 H1687.6 M177.1,2316.4 H1687.6 M177.1,2514.8 H1687.6"/>
<path class="axr" d="M1687.6,1522.6 V2715.3"/>
<path class="ax" d="M1689,1522.6 H177.1 V2715.3 H1689 M392.9,2715.3 v-14.7 M392.9,1522.6 v14.7 M608.6,2715.3 v-14.7 M608.6,1522.6 v14.7 M824.4,2715.3 v-14.7 M824.4,1522.6 v14.7 M1040.2,2715.3 v-14.7 M1040.2,1522.6 v14.7 M1256,2715.3 v-14.7 M1256,1522.6 v14.7 M1471.7,2715.3 v-14.7 M1471.7,1522.6 v14.7 M177.1,1721 h14.2 M1687.6,1721 h-16.2 M177.1,1919.5 h14.2 M1687.6,1919.5 h-16.2 M177.1,2117.9 h14.2 M1687.6,2117.9 h-16.2 M177.1,2316.4 h14.2 M1687.6,2316.4 h-16.2 M177.1,2514.8 h14.2 M1687.6,2514.8 h-16.2"/>
<path class="eb k" d="M370,1529 H419.1 M370,1548.8 H419.5 M371.2,1568.5 H421.4 M371.2,1588.3 H422.6 M371.9,1608 H424.2 M373,1627.8 H424.9 M374.7,1647.6 H424.6 M375.2,1667.3 H424.4 M378.9,1687.1 H424.4 M382.7,1706.8 H425.9 M388.4,1726.6 H429.3 M392.4,1746.4 H431.6 M393.3,1766.1 H448.1 M396.2,1785.9 H485 M402.8,1805.6 H519.3 M413.6,1825.4 H559 M429.4,1845.2 H593.7 M459.5,1864.9 H636.9 M507.9,1884.7 H696.7 M531.4,1904.4 H756.4 M565.3,1924.2 H816.1 M601.6,1944 H862.8 M665.6,1963.7 H904.3 M728.5,1983.5 H959.5 M784.3,2003.2 H1001.6 M836.2,2023 H1035.1 M917,2042.8 H1048.2 M956.6,2062.5 H1081.8 M998.1,2082.3 H1108.1 M1033.4,2102 H1123.6 M1056.9,2121.8 H1147.8 M1075.2,2141.6 H1176.1 M1094,2161.3 H1195.6 M1118.4,2181.1 H1212.9 M1138.1,2200.8 H1237.4 M1150.1,2220.6 H1252.7 M1160.5,2240.4 H1266.8 M1193.6,2260.1 H1278.6 M1219.3,2279.9 H1295.9 M1249.2,2299.6 H1316.9 M1272.3,2319.4 H1335.9 M1294.9,2339.2 H1352 M1312.8,2358.9 H1366.1 M1329.5,2378.7 H1377.6 M1343.9,2398.4 H1389.5 M1356.9,2418.2 H1400.7 M1369.3,2438 H1410.8 M1381.4,2457.7 H1423.2 M1392.7,2477.5 H1431.8 M1403,2497.2 H1441.1 M1408.9,2517 H1449.5 M1418.4,2536.8 H1457.7 M1428.8,2556.5 H1463.4 M1436.6,2576.3 H1469.4 M1444,2596 H1474 M1452.4,2615.8 H1484.4 M1458.4,2635.6 H1489.5 M1468.8,2655.3 H1494.7 M1476.6,2675.1 H1500.6 M1484.4,2694.8 H1504.4"/>
<path class="cp k" d="M370,1517 v24 M419.1,1517 v24 M370,1536.8 v24 M419.5,1536.8 v24 M371.2,1556.5 v24 M421.4,1556.5 v24 M371.2,1576.3 v24 M422.6,1576.3 v24 M371.9,1596 v24 M424.2,1596 v24 M373,1615.8 v24 M424.9,1615.8 v24 M374.7,1635.6 v24 M424.6,1635.6 v24 M375.2,1655.3 v24 M424.4,1655.3 v24 M378.9,1675.1 v24 M424.4,1675.1 v24 M382.7,1694.8 v24 M425.9,1694.8 v24 M388.4,1714.6 v24 M429.3,1714.6 v24 M392.4,1734.4 v24 M431.6,1734.4 v24 M393.3,1754.1 v24 M448.1,1754.1 v24 M396.2,1773.9 v24 M485,1773.9 v24 M402.8,1793.6 v24 M519.3,1793.6 v24 M413.6,1813.4 v24 M559,1813.4 v24 M429.4,1833.2 v24 M593.7,1833.2 v24 M459.5,1852.9 v24 M636.9,1852.9 v24 M507.9,1872.7 v24 M696.7,1872.7 v24 M531.4,1892.4 v24 M756.4,1892.4 v24 M565.3,1912.2 v24 M816.1,1912.2 v24 M601.6,1932 v24 M862.8,1932 v24 M665.6,1951.7 v24 M904.3,1951.7 v24 M728.5,1971.5 v24 M959.5,1971.5 v24 M784.3,1991.2 v24 M1001.6,1991.2 v24 M836.2,2011 v24 M1035.1,2011 v24 M917,2030.8 v24 M1048.2,2030.8 v24 M956.6,2050.5 v24 M1081.8,2050.5 v24 M998.1,2070.3 v24 M1108.1,2070.3 v24 M1033.4,2090 v24 M1123.6,2090 v24 M1056.9,2109.8 v24 M1147.8,2109.8 v24 M1075.2,2129.6 v24 M1176.1,2129.6 v24 M1094,2149.3 v24 M1195.6,2149.3 v24 M1118.4,2169.1 v24 M1212.9,2169.1 v24 M1138.1,2188.8 v24 M1237.4,2188.8 v24 M1150.1,2208.6 v24 M1252.7,2208.6 v24 M1160.5,2228.4 v24 M1266.8,2228.4 v24 M1193.6,2248.1 v24 M1278.6,2248.1 v24 M1219.3,2267.9 v24 M1295.9,2267.9 v24 M1249.2,2287.6 v24 M1316.9,2287.6 v24 M1272.3,2307.4 v24 M1335.9,2307.4 v24 M1294.9,2327.2 v24 M1352,2327.2 v24 M1312.8,2346.9 v24 M1366.1,2346.9 v24 M1329.5,2366.7 v24 M1377.6,2366.7 v24 M1343.9,2386.4 v24 M1389.5,2386.4 v24 M1356.9,2406.2 v24 M1400.7,2406.2 v24 M1369.3,2426 v24 M1410.8,2426 v24 M1381.4,2445.7 v24 M1423.2,2445.7 v24 M1392.7,2465.5 v24 M1431.8,2465.5 v24 M1403,2485.2 v24 M1441.1,2485.2 v24 M1408.9,2505 v24 M1449.5,2505 v24 M1418.4,2524.8 v24 M1457.7,2524.8 v24 M1428.8,2544.5 v24 M1463.4,2544.5 v24 M1436.6,2564.3 v24 M1469.4,2564.3 v24 M1444,2584 v24 M1474,2584 v24 M1452.4,2603.8 v24 M1484.4,2603.8 v24 M1458.4,2623.6 v24 M1489.5,2623.6 v24 M1468.8,2643.3 v24 M1494.7,2643.3 v24 M1476.6,2663.1 v24 M1500.6,2663.1 v24 M1484.4,2682.8 v24 M1504.4,2682.8 v24"/>
<path class="mean k" d="M394.6,1529 L394.6,1531.1 L394.6,1534.1 L394.6,1537.6 L394.6,1541.4 L394.6,1545.2 L394.8,1548.8 L394.9,1552.1 L395.2,1555.3 L395.5,1558.6 L395.8,1561.9 L396.1,1565.2 L396.3,1568.5 L396.4,1571.8 L396.5,1575.1 L396.6,1578.4 L396.7,1581.7 L396.8,1585 L396.9,1588.3 L397.1,1591.6 L397.3,1594.9 L397.5,1598.2 L397.7,1601.5 L397.9,1604.7 L398,1608 L398.2,1611.3 L398.4,1614.6 L398.5,1617.9 L398.7,1621.2 L398.8,1624.5 L398.9,1627.8 L399.1,1631.1 L399.2,1634.4 L399.3,1637.7 L399.5,1641 L399.6,1644.3 L399.6,1647.6 L399.7,1650.9 L399.7,1654.1 L399.7,1657.4 L399.6,1660.7 L399.7,1664 L399.8,1667.3 L400,1670.6 L400.3,1673.9 L400.6,1677.2 L400.9,1680.5 L401.3,1683.8 L401.6,1687.1 L402,1690.4 L402.4,1693.7 L402.8,1697 L403.2,1700.3 L403.7,1703.5 L404.3,1706.8 L405,1710.1 L405.7,1713.4 L406.5,1716.7 L407.4,1720 L408.2,1723.3 L408.9,1726.6 L409.4,1729.9 L409.8,1733.2 L410.2,1736.5 L410.6,1739.8 L411.2,1743.1 L412,1746.4 L413,1749.7 L414.1,1752.9 L415.3,1756.2 L416.8,1759.5 L418.5,1762.8 L420.7,1766.1 L423.4,1769.4 L426.5,1772.7 L429.9,1776 L433.5,1779.3 L437.1,1782.6 L440.6,1785.9 L443.9,1789.2 L447.2,1792.5 L450.5,1795.8 L453.9,1799.1 L457.4,1802.3 L461,1805.6 L465,1808.9 L469.1,1812.2 L473.4,1815.5 L477.7,1818.8 L482,1822.1 L486.3,1825.4 L490.4,1828.7 L494.3,1832 L498.2,1835.3 L502.3,1838.6 L506.7,1841.9 L511.6,1845.2 L516.8,1848.5 L522.3,1851.7 L528.1,1855 L534.3,1858.3 L540.9,1861.6 L548.2,1864.9 L556.4,1868.2 L565.4,1871.5 L574.9,1874.8 L584.5,1878.1 L593.8,1881.4 L602.3,1884.7 L609.9,1888 L616.9,1891.3 L623.6,1894.6 L630.1,1897.9 L636.8,1901.1 L643.9,1904.4 L651.5,1907.7 L659.3,1911 L667.3,1914.3 L675.3,1917.6 L683.1,1920.9 L690.7,1924.2 L697.8,1927.5 L704.5,1930.8 L711.1,1934.1 L717.7,1937.4 L724.7,1940.7 L732.2,1944 L740.3,1947.3 L748.7,1950.5 L757.5,1953.8 L766.5,1957.1 L775.7,1960.4 L785,1963.7 L794.5,1967 L804.5,1970.3 L814.7,1973.6 L824.8,1976.9 L834.7,1980.2 L844,1983.5 L852.8,1986.8 L861.3,1990.1 L869.5,1993.4 L877.5,1996.7 L885.3,1999.9 L893,2003.2 L900.4,2006.5 L907.5,2009.8 L914.4,2013.1 L921.3,2016.4 L928.4,2019.7 L935.6,2023 L943.3,2026.3 L951.4,2029.6 L959.5,2032.9 L967.6,2036.2 L975.3,2039.5 L982.6,2042.8 L989.3,2046.1 L995.7,2049.3 L1001.7,2052.6 L1007.6,2055.9 L1013.4,2059.2 L1019.2,2062.5 L1025.1,2065.8 L1031,2069.1 L1036.9,2072.4 L1042.5,2075.7 L1048,2079 L1053.1,2082.3 L1057.8,2085.6 L1062.3,2088.9 L1066.4,2092.2 L1070.5,2095.5 L1074.5,2098.7 L1078.5,2102 L1082.6,2105.3 L1086.6,2108.6 L1090.6,2111.9 L1094.5,2115.2 L1098.4,2118.5 L1102.3,2121.8 L1106.3,2125.1 L1110.3,2128.4 L1114.3,2131.7 L1118.2,2135 L1122,2138.3 L1125.7,2141.6 L1129.1,2144.9 L1132.3,2148.1 L1135.4,2151.4 L1138.4,2154.7 L1141.6,2158 L1144.8,2161.3 L1148.2,2164.6 L1151.6,2167.9 L1155,2171.2 L1158.5,2174.5 L1162.1,2177.8 L1165.7,2181.1 L1169.4,2184.4 L1173.2,2187.7 L1177.1,2191 L1181,2194.3 L1184.5,2197.5 L1187.8,2200.8 L1190.5,2204.1 L1193,2207.4 L1195.2,2210.7 L1197.3,2214 L1199.3,2217.3 L1201.4,2220.6 L1203.4,2223.9 L1205.2,2227.2 L1207,2230.5 L1208.9,2233.8 L1211,2237.1 L1213.7,2240.4 L1216.8,2243.7 L1220.4,2246.9 L1224.3,2250.2 L1228.3,2253.5 L1232.3,2256.8 L1236.1,2260.1 L1239.7,2263.4 L1243.2,2266.7 L1246.7,2270 L1250.2,2273.3 L1253.8,2276.6 L1257.6,2279.9 L1261.7,2283.2 L1266,2286.5 L1270.4,2289.8 L1274.7,2293.1 L1279,2296.3 L1283.1,2299.6 L1286.8,2302.9 L1290.5,2306.2 L1294,2309.5 L1297.4,2312.8 L1300.7,2316.1 L1304.1,2319.4 L1307.5,2322.7 L1310.8,2326 L1314.1,2329.3 L1317.3,2332.6 L1320.4,2335.9 L1323.5,2339.2 L1326.3,2342.5 L1329.1,2345.7 L1331.8,2349 L1334.4,2352.3 L1336.9,2355.6 L1339.4,2358.9 L1341.9,2362.2 L1344.3,2365.5 L1346.7,2368.8 L1349,2372.1 L1351.3,2375.4 L1353.5,2378.7 L1355.8,2382 L1358,2385.3 L1360.2,2388.6 L1362.4,2391.9 L1364.6,2395.1 L1366.7,2398.4 L1368.8,2401.7 L1370.8,2405 L1372.9,2408.3 L1374.9,2411.6 L1376.8,2414.9 L1378.8,2418.2 L1380.7,2421.5 L1382.6,2424.8 L1384.4,2428.1 L1386.3,2431.4 L1388.1,2434.7 L1390,2438 L1392.1,2441.3 L1394.1,2444.5 L1396.3,2447.8 L1398.3,2451.1 L1400.4,2454.4 L1402.3,2457.7 L1404.1,2461 L1405.8,2464.3 L1407.4,2467.6 L1409,2470.9 L1410.6,2474.2 L1412.2,2477.5 L1413.9,2480.8 L1415.6,2484.1 L1417.3,2487.4 L1419,2490.7 L1420.6,2493.9 L1422,2497.2 L1423.4,2500.5 L1424.6,2503.8 L1425.7,2507.1 L1426.8,2510.4 L1427.9,2513.7 L1429.2,2517 L1430.6,2520.3 L1432.1,2523.6 L1433.6,2526.9 L1435.1,2530.2 L1436.6,2533.5 L1438.1,2536.8 L1439.5,2540.1 L1440.8,2543.3 L1442.2,2546.6 L1443.5,2549.9 L1444.8,2553.2 L1446.1,2556.5 L1447.3,2559.8 L1448.5,2563.1 L1449.7,2566.4 L1450.8,2569.7 L1451.9,2573 L1453,2576.3 L1454,2579.6 L1454.9,2582.9 L1455.8,2586.2 L1456.8,2589.5 L1457.8,2592.7 L1459,2596 L1460.4,2599.3 L1462,2602.6 L1463.7,2605.9 L1465.4,2609.2 L1467,2612.5 L1468.4,2615.8 L1469.5,2619.1 L1470.5,2622.4 L1471.3,2625.7 L1472.1,2629 L1472.9,2632.3 L1474,2635.6 L1475.1,2638.9 L1476.4,2642.1 L1477.8,2645.4 L1479.1,2648.7 L1480.5,2652 L1481.8,2655.3 L1483,2658.6 L1484.1,2661.9 L1485.3,2665.2 L1486.4,2668.5 L1487.5,2671.8 L1488.6,2675.1 L1489.7,2678.4 L1490.7,2681.9 L1491.7,2685.3 L1492.7,2688.7 L1493.6,2691.9 L1494.4,2694.8 L1495.2,2697.6 L1495.9,2700.4 L1496.6,2702.9 L1497.1,2705.2 L1497.6,2707.1 L1498,2708.5"/>
<path class="eb m" d="M362.7,1530.7 H420.3 M362.7,1550.5 H420.3 M362.7,1570.2 H420.3 M364.3,1590 H420.7 M368,1609.7 H421.4 M370.3,1629.5 H422.6 M372.5,1649.3 H429.7 M370.3,1669 H442.9 M372.3,1688.8 H464.5 M373.1,1708.5 H474.6 M386.1,1728.3 H482.7 M395.3,1748.1 H497.1 M436.5,1767.8 H523 M474.6,1787.6 H544.6 M512,1807.3 H561.3 M528.7,1827.1 H573.2 M541.8,1846.9 H591.2 M559.8,1866.6 H601.3 M578.1,1886.4 H625.5 M605,1906.1 H670.8 M633.1,1925.9 H726.8 M683.3,1945.7 H798.2 M728.5,1965.4 H844.8 M770.1,1985.2 H881.7 M822,2004.9 H918 M879.4,2024.7 H958.1 M916.8,2044.5 H1014.4 M956.6,2064.2 H1050.7 M988.4,2084 H1075.9 M1033.4,2103.7 H1095.6 M1061,2123.5 H1116.4 M1084.6,2143.3 H1137.7 M1113.4,2163 H1156.3 M1132.6,2182.8 H1172.3 M1152.2,2202.5 H1187 M1174,2222.3 H1203.4 M1197,2242.1 H1231.6 M1220.1,2261.8 H1253.8 M1247.5,2281.6 H1275.4 M1270.5,2301.3 H1293.6 M1286,2321.1 H1310 M1299.3,2340.9 H1327.2 M1314.2,2360.6 H1345.9 M1322.3,2380.4 H1366.1 M1331,2400.1 H1380.8 M1338.2,2419.9 H1392 M1353.1,2439.7 H1402.1 M1369.3,2459.4 H1410.8 M1381.6,2479.2 H1419.8 M1395.4,2498.9 H1429.6 M1404,2518.7 H1440.4 M1415.8,2538.5 H1449.5 M1428.8,2558.2 H1456.5 M1438.5,2578 H1466 M1449.2,2597.7 H1475.4 M1457.6,2617.5 H1486.1 M1467.9,2637.3 H1493 M1479.2,2657 H1499.1 M1485.2,2676.8 H1504.8 M1491.3,2696.5 H1512"/>
<path class="cp m" d="M362.7,1518.7 v24 M420.3,1518.7 v24 M362.7,1538.5 v24 M420.3,1538.5 v24 M362.7,1558.2 v24 M420.3,1558.2 v24 M364.3,1578 v24 M420.7,1578 v24 M368,1597.7 v24 M421.4,1597.7 v24 M370.3,1617.5 v24 M422.6,1617.5 v24 M372.5,1637.3 v24 M429.7,1637.3 v24 M370.3,1657 v24 M442.9,1657 v24 M372.3,1676.8 v24 M464.5,1676.8 v24 M373.1,1696.5 v24 M474.6,1696.5 v24 M386.1,1716.3 v24 M482.7,1716.3 v24 M395.3,1736.1 v24 M497.1,1736.1 v24 M436.5,1755.8 v24 M523,1755.8 v24 M474.6,1775.6 v24 M544.6,1775.6 v24 M512,1795.3 v24 M561.3,1795.3 v24 M528.7,1815.1 v24 M573.2,1815.1 v24 M541.8,1834.9 v24 M591.2,1834.9 v24 M559.8,1854.6 v24 M601.3,1854.6 v24 M578.1,1874.4 v24 M625.5,1874.4 v24 M605,1894.1 v24 M670.8,1894.1 v24 M633.1,1913.9 v24 M726.8,1913.9 v24 M683.3,1933.7 v24 M798.2,1933.7 v24 M728.5,1953.4 v24 M844.8,1953.4 v24 M770.1,1973.2 v24 M881.7,1973.2 v24 M822,1992.9 v24 M918,1992.9 v24 M879.4,2012.7 v24 M958.1,2012.7 v24 M916.8,2032.5 v24 M1014.4,2032.5 v24 M956.6,2052.2 v24 M1050.7,2052.2 v24 M988.4,2072 v24 M1075.9,2072 v24 M1033.4,2091.7 v24 M1095.6,2091.7 v24 M1061,2111.5 v24 M1116.4,2111.5 v24 M1084.6,2131.3 v24 M1137.7,2131.3 v24 M1113.4,2151 v24 M1156.3,2151 v24 M1132.6,2170.8 v24 M1172.3,2170.8 v24 M1152.2,2190.5 v24 M1187,2190.5 v24 M1174,2210.3 v24 M1203.4,2210.3 v24 M1197,2230.1 v24 M1231.6,2230.1 v24 M1220.1,2249.8 v24 M1253.8,2249.8 v24 M1247.5,2269.6 v24 M1275.4,2269.6 v24 M1270.5,2289.3 v24 M1293.6,2289.3 v24 M1286,2309.1 v24 M1310,2309.1 v24 M1299.3,2328.9 v24 M1327.2,2328.9 v24 M1314.2,2348.6 v24 M1345.9,2348.6 v24 M1322.3,2368.4 v24 M1366.1,2368.4 v24 M1331,2388.1 v24 M1380.8,2388.1 v24 M1338.2,2407.9 v24 M1392,2407.9 v24 M1353.1,2427.7 v24 M1402.1,2427.7 v24 M1369.3,2447.4 v24 M1410.8,2447.4 v24 M1381.6,2467.2 v24 M1419.8,2467.2 v24 M1395.4,2486.9 v24 M1429.6,2486.9 v24 M1404,2506.7 v24 M1440.4,2506.7 v24 M1415.8,2526.5 v24 M1449.5,2526.5 v24 M1428.8,2546.2 v24 M1456.5,2546.2 v24 M1438.5,2566 v24 M1466,2566 v24 M1449.2,2585.7 v24 M1475.4,2585.7 v24 M1457.6,2605.5 v24 M1486.1,2605.5 v24 M1467.9,2625.3 v24 M1493,2625.3 v24 M1479.2,2645 v24 M1499.1,2645 v24 M1485.2,2664.8 v24 M1504.8,2664.8 v24 M1491.3,2684.5 v24 M1512,2684.5 v24"/>
<path class="mean m" d="M391.5,1530.7 L391.5,1532.8 L391.5,1535.8 L391.5,1539.3 L391.5,1543.1 L391.5,1546.9 L391.5,1550.5 L391.5,1553.8 L391.5,1557 L391.4,1560.3 L391.4,1563.6 L391.4,1566.9 L391.5,1570.2 L391.6,1573.5 L391.7,1576.8 L391.9,1580.1 L392,1583.4 L392.3,1586.7 L392.5,1590 L392.8,1593.3 L393.2,1596.6 L393.6,1599.9 L394,1603.2 L394.3,1606.4 L394.7,1609.7 L395,1613 L395.2,1616.3 L395.4,1619.6 L395.7,1622.9 L396,1626.2 L396.5,1629.5 L397,1632.8 L397.8,1636.1 L398.5,1639.4 L399.4,1642.7 L400.2,1646 L401.1,1649.3 L401.9,1652.6 L402.6,1655.8 L403.4,1659.1 L404.3,1662.4 L405.3,1665.7 L406.6,1669 L408.3,1672.3 L410.3,1675.6 L412.5,1678.9 L414.7,1682.2 L416.7,1685.5 L418.4,1688.8 L419.6,1692.1 L420.5,1695.4 L421.2,1698.7 L421.9,1702 L422.7,1705.2 L423.9,1708.5 L425.3,1711.8 L426.9,1715.1 L428.7,1718.4 L430.6,1721.7 L432.5,1725 L434.4,1728.3 L436,1731.6 L437.4,1734.9 L438.9,1738.2 L440.6,1741.5 L443,1744.8 L446.2,1748.1 L450.6,1751.4 L455.9,1754.6 L461.8,1757.9 L468,1761.2 L474.1,1764.5 L479.8,1767.8 L485,1771.1 L490.1,1774.4 L495.1,1777.7 L500,1781 L504.8,1784.3 L509.6,1787.6 L514.4,1790.9 L519.3,1794.2 L524.1,1797.5 L528.7,1800.8 L532.9,1804 L536.6,1807.3 L539.8,1810.6 L542.3,1813.9 L544.5,1817.2 L546.6,1820.5 L548.6,1823.8 L551,1827.1 L553.5,1830.4 L556.1,1833.7 L558.7,1837 L561.4,1840.3 L564,1843.6 L566.5,1846.9 L568.8,1850.2 L571,1853.4 L573.2,1856.7 L575.4,1860 L577.8,1863.3 L580.5,1866.6 L583.5,1869.9 L586.5,1873.2 L589.8,1876.5 L593.3,1879.8 L597.3,1883.1 L601.8,1886.4 L606.9,1889.7 L612.5,1893 L618.5,1896.3 L624.9,1899.6 L631.4,1902.8 L637.9,1906.1 L644.3,1909.4 L650.8,1912.7 L657.4,1916 L664.3,1919.3 L671.8,1922.6 L680,1925.9 L689.2,1929.2 L699.4,1932.5 L710.1,1935.8 L720.9,1939.1 L731.3,1942.4 L740.8,1945.7 L749.3,1949 L757.4,1952.2 L765,1955.5 L772.4,1958.8 L779.6,1962.1 L786.6,1965.4 L793.5,1968.7 L800,1972 L806.4,1975.3 L812.7,1978.6 L819.2,1981.9 L825.9,1985.2 L832.9,1988.5 L840.1,1991.8 L847.4,1995.1 L854.8,1998.4 L862.3,2001.6 L870,2004.9 L877.9,2008.2 L886,2011.5 L894.2,2014.8 L902.5,2018.1 L910.7,2021.4 L918.8,2024.7 L926.8,2028 L934.8,2031.3 L942.8,2034.6 L950.7,2037.9 L958.3,2041.2 L965.6,2044.5 L972.6,2047.8 L979.3,2051 L985.8,2054.3 L992,2057.6 L998,2060.9 L1003.7,2064.2 L1008.9,2067.5 L1013.7,2070.8 L1018.3,2074.1 L1022.7,2077.4 L1027.3,2080.7 L1032.2,2084 L1037.4,2087.3 L1043,2090.6 L1048.6,2093.9 L1054.2,2097.2 L1059.5,2100.4 L1064.5,2103.7 L1069,2107 L1073.2,2110.3 L1077.2,2113.6 L1081.1,2116.9 L1084.9,2120.2 L1088.7,2123.5 L1092.5,2126.8 L1096.3,2130.1 L1100,2133.4 L1103.6,2136.7 L1107.4,2140 L1111.2,2143.3 L1115.1,2146.6 L1119.2,2149.8 L1123.3,2153.1 L1127.4,2156.4 L1131.2,2159.7 L1134.8,2163 L1138.1,2166.3 L1141.2,2169.6 L1144.1,2172.9 L1146.8,2176.2 L1149.6,2179.5 L1152.4,2182.8 L1155.3,2186.1 L1158.1,2189.4 L1160.9,2192.7 L1163.8,2196 L1166.6,2199.2 L1169.6,2202.5 L1172.6,2205.8 L1175.6,2209.1 L1178.6,2212.4 L1181.8,2215.7 L1185.1,2219 L1188.7,2222.3 L1192.6,2225.6 L1196.9,2228.9 L1201.3,2232.2 L1205.7,2235.5 L1210.1,2238.8 L1214.3,2242.1 L1218.2,2245.4 L1222,2248.6 L1225.7,2251.9 L1229.4,2255.2 L1233.1,2258.5 L1236.9,2261.8 L1241,2265.1 L1245.1,2268.4 L1249.3,2271.7 L1253.5,2275 L1257.6,2278.3 L1261.5,2281.6 L1265.2,2284.9 L1268.8,2288.2 L1272.3,2291.5 L1275.7,2294.8 L1278.9,2298 L1282,2301.3 L1285,2304.6 L1287.7,2307.9 L1290.4,2311.2 L1292.9,2314.5 L1295.4,2317.8 L1298,2321.1 L1300.6,2324.4 L1303.1,2327.7 L1305.6,2331 L1308.1,2334.3 L1310.6,2337.6 L1313.2,2340.9 L1316,2344.2 L1318.8,2347.4 L1321.7,2350.7 L1324.6,2354 L1327.4,2357.3 L1330.1,2360.6 L1332.6,2363.9 L1335.1,2367.2 L1337.4,2370.5 L1339.8,2373.8 L1342,2377.1 L1344.2,2380.4 L1346.3,2383.7 L1348.4,2387 L1350.4,2390.3 L1352.3,2393.6 L1354.1,2396.8 L1355.9,2400.1 L1357.5,2403.4 L1359,2406.7 L1360.4,2410 L1361.9,2413.3 L1363.4,2416.6 L1365.1,2419.9 L1367,2423.2 L1369,2426.5 L1371.1,2429.8 L1373.3,2433.1 L1375.5,2436.4 L1377.6,2439.7 L1379.7,2443 L1381.8,2446.2 L1383.9,2449.5 L1386,2452.8 L1388.1,2456.1 L1390,2459.4 L1391.9,2462.7 L1393.7,2466 L1395.4,2469.3 L1397.1,2472.6 L1398.9,2475.9 L1400.7,2479.2 L1402.6,2482.5 L1404.6,2485.8 L1406.7,2489.1 L1408.7,2492.4 L1410.6,2495.6 L1412.5,2498.9 L1414.2,2502.2 L1415.9,2505.5 L1417.4,2508.8 L1419,2512.1 L1420.6,2515.4 L1422.2,2518.7 L1423.9,2522 L1425.6,2525.3 L1427.4,2528.6 L1429.2,2531.9 L1430.9,2535.2 L1432.7,2538.5 L1434.3,2541.8 L1436,2545 L1437.7,2548.3 L1439.4,2551.6 L1441,2554.9 L1442.7,2558.2 L1444.3,2561.5 L1445.9,2564.8 L1447.4,2568.1 L1449,2571.4 L1450.6,2574.7 L1452.2,2578 L1453.9,2581.3 L1455.6,2584.6 L1457.3,2587.9 L1459,2591.2 L1460.6,2594.4 L1462.3,2597.7 L1463.9,2601 L1465.6,2604.3 L1467.2,2607.6 L1468.8,2610.9 L1470.3,2614.2 L1471.8,2617.5 L1473.3,2620.8 L1474.8,2624.1 L1476.2,2627.4 L1477.6,2630.7 L1479,2634 L1480.5,2637.3 L1481.9,2640.6 L1483.4,2643.8 L1485,2647.1 L1486.5,2650.4 L1487.9,2653.7 L1489.2,2657 L1490.3,2660.3 L1491.3,2663.6 L1492.2,2666.9 L1493.1,2670.2 L1494,2673.5 L1495,2676.8 L1496.1,2680.1 L1497.2,2683.5 L1498.3,2687 L1499.4,2690.3 L1500.6,2693.5 L1501.7,2696.5 L1502.8,2699.5 L1503.9,2702.4 L1505.1,2705.3 L1506.2,2707.8 L1507,2709.9 L1507.7,2711.5"/>
<text class="tl" x="176.6" y="2778.1" text-anchor="middle">23.5</text>
<text class="tl" x="392.4" y="2778.1" text-anchor="middle">24</text>
<text class="tl" x="608.1" y="2778.1" text-anchor="middle">24.5</text>
<text class="tl" x="823.9" y="2778.1" text-anchor="middle">25</text>
<text class="tl" x="1039.7" y="2778.1" text-anchor="middle">25.5</text>
<text class="tl" x="1255.5" y="2778.1" text-anchor="middle">26</text>
<text class="tl" x="1471.2" y="2778.1" text-anchor="middle">26.5</text>
<text class="tl" x="1687" y="2778.1" text-anchor="middle">27</text>
<text class="tl" x="157.9" y="1539.9" text-anchor="end">0</text>
<text class="tl" x="157.9" y="1738.3" text-anchor="end">50</text>
<text class="tl" x="157.9" y="1937" text-anchor="end">100</text>
<text class="tl" x="157.9" y="2137.3" text-anchor="end">150</text>
<text class="tl" x="157.9" y="2335.6" text-anchor="end">200</text>
<text class="tl" x="157.9" y="2532.8" text-anchor="end">250</text>
<text class="tl" x="157.9" y="2732.3" text-anchor="end">300</text>
<text class="tt" x="931.2" y="1501.6" text-anchor="middle">(b)</text>
<text class="al" transform="translate(53.5,2117.9) rotate(-90)" text-anchor="middle">[m]</text>
<text class="al" x="930.8" y="2861.3" text-anchor="middle" style="letter-spacing:0.6px">[kg/m<tspan class="sup" dy="-22.5">3</tspan><tspan dy="22.5">]</tspan></text>
<g class="legend" transform="translate(1246.1,1550.4)">
<rect class="lb" x="0" y="0" width="413.5" height="228.2"/>
<g transform="translate(2,0)">
<path class="eb k" d="M38,33.2 H90.5"/>
<path class="cp k" d="M37.8,21.2 v24 M90.4,21.2 v24"/>
<path class="ic k" d="M13,53.8 L15.5,53.8 L19,53.8 L22.9,53.8 L26.5,53.5 L29.6,53.1 L32.5,52.6 L35.4,51.8 L38.6,50.7 L42.2,49.1 L46.1,47.1 L49.9,44.9 L53.4,42.6 L56.4,40.2 L59.1,37.7 L61.6,35.1 L64.2,32.5 L66.9,29.8 L69.6,26.9 L72.2,24.2 L74.9,21.8 L77.7,19.8 L80.5,18 L83.3,16.5 L85.7,15.1 L87.6,13.9 L89.2,12.9 L90.8,12.2 L92.4,11.6 L94,11.3 L95.5,11.3 L97.4,11.4 L100,11.4 L104.2,11.4 L109.4,11.4 L114.4,11.4 L117.9,11.4"/>
</g>
<text class="lt" x="128.5" y="46.8">shallow sdv</text>
<g transform="translate(2,0)">
<path class="mean k" d="M12.5,87.1 H117"/>
</g>
<text class="lt" x="128.5" y="100.7">shallow mean</text>
<g transform="translate(2,0)">
<path class="eb m" d="M38,141 H90.5"/>
<path class="cp m" d="M37.8,129 v24 M90.4,129 v24"/>
<path class="ic m" d="M13,161.6 L15.5,161.6 L19,161.6 L22.9,161.6 L26.5,161.3 L29.6,160.9 L32.5,160.4 L35.4,159.6 L38.6,158.5 L42.2,156.9 L46.1,154.9 L49.9,152.7 L53.4,150.4 L56.4,148 L59.1,145.5 L61.6,142.9 L64.2,140.3 L66.9,137.6 L69.6,134.7 L72.2,132 L74.9,129.6 L77.7,127.6 L80.5,125.8 L83.3,124.3 L85.7,122.9 L87.6,121.7 L89.2,120.7 L90.8,120 L92.4,119.4 L94,119.1 L95.5,119.1 L97.4,119.2 L100,119.2 L104.2,119.2 L109.4,119.2 L114.4,119.2 L117.9,119.2"/>
</g>
<text class="lt" x="128.5" y="154.6">deep sdv</text>
<g transform="translate(2,0)">
<path class="mean m" d="M12.5,194.9 H117"/>
</g>
<text class="lt" x="128.5" y="208.5">deep mean</text>
</g>
</g>
<g class="panel" id="panel-c">
<path class="mn mnv" d="M239.1,2978.7 V4169.7 M302.1,2978.7 V4169.7 M365,2978.7 V4169.7 M490.9,2978.7 V4169.7 M553.8,2978.7 V4169.7 M616.7,2978.7 V4169.7 M742.6,2978.7 V4169.7 M805.5,2978.7 V4169.7 M868.5,2978.7 V4169.7 M994.3,2978.7 V4169.7 M1057.3,2978.7 V4169.7 M1120.2,2978.7 V4169.7 M1246.1,2978.7 V4169.7 M1309,2978.7 V4169.7 M1371.9,2978.7 V4169.7 M1497.8,2978.7 V4169.7 M1560.7,2978.7 V4169.7 M1623.7,2978.7 V4169.7"/>
<path class="mn mnh" d="M181.6,3016.8 H1687.6 M181.6,3056.6 H1687.6 M181.6,3096.4 H1687.6 M181.6,3136.2 H1687.6 M181.6,3215.7 H1687.6 M181.6,3255.5 H1687.6 M181.6,3295.3 H1687.6 M181.6,3335.1 H1687.6 M181.6,3414.7 H1687.6 M181.6,3454.5 H1687.6 M181.6,3494.3 H1687.6 M181.6,3534.1 H1687.6 M181.6,3613.6 H1687.6 M181.6,3653.4 H1687.6 M181.6,3693.2 H1687.6 M181.6,3733 H1687.6 M181.6,3812.6 H1687.6 M181.6,3852.4 H1687.6 M181.6,3892.2 H1687.6 M181.6,3932 H1687.6 M181.6,4011.5 H1687.6 M181.6,4051.3 H1687.6 M181.6,4091.1 H1687.6 M181.6,4130.9 H1687.6"/>
<path class="mj" d="M428.8,2978.2 V4169.7 M680.6,2978.2 V4169.7 M932.3,2978.2 V4169.7 M1184,2978.2 V4169.7 M1435.8,2978.2 V4169.7 M177.1,3176.6 H1687.6 M177.1,3375.1 H1687.6 M177.1,3573.5 H1687.6 M177.1,3772 H1687.6 M177.1,3970.4 H1687.6"/>
<path class="axr" d="M1687.6,2978.2 V4169.7"/>
<path class="ax" d="M1689,2978.2 H177.1 V4169.7 H1689 M428.8,4169.7 v-14.7 M428.8,2978.2 v14.7 M680.6,4169.7 v-14.7 M680.6,2978.2 v14.7 M932.3,4169.7 v-14.7 M932.3,2978.2 v14.7 M1184,4169.7 v-14.7 M1184,2978.2 v14.7 M1435.8,4169.7 v-14.7 M1435.8,2978.2 v14.7 M177.1,3176.6 h14.2 M1687.6,3176.6 h-16.2 M177.1,3375.1 h14.2 M1687.6,3375.1 h-16.2 M177.1,3573.5 h14.2 M1687.6,3573.5 h-16.2 M177.1,3772 h14.2 M1687.6,3772 h-16.2 M177.1,3970.4 h14.2 M1687.6,3970.4 h-16.2"/>
<path class="eb k" d="M672.6,2985.1 H806.9 M672.6,3004.8 H806.9 M673.5,3024.6 H806.1 M673.5,3044.3 H804 M673.5,3064 H804 M674.4,3083.8 H804 M675.5,3103.5 H803.2 M675.4,3123.2 H802 M677.5,3142.9 H800.4 M686.5,3162.7 H797.8 M702,3182.4 H793 M709.6,3202.1 H793 M720,3221.9 H799.9 M734.2,3241.6 H825.8 M732,3261.3 H883.6 M737.1,3281 H952.8 M754.4,3300.8 H1021 M789.2,3320.5 H1105.1 M857.3,3340.2 H1215.5 M906,3360 H1320.6 M965,3379.7 H1404.1 M1041.8,3399.4 H1471.9 M1172.3,3419.2 H1526.6 M1277,3438.9 H1551 M1360.5,3458.6 H1553.3 M1412.6,3478.3 H1545 M1468.3,3498.1 H1535.3 M1459.6,3517.8 H1537.3 M1444.2,3537.5 H1528 M1431.6,3557.3 H1518.8 M1406.3,3577 H1505.5 M1366,3596.7 H1497.4 M1339.4,3616.5 H1485.3 M1308.2,3636.2 H1461.1 M1266.4,3655.9 H1436.9 M1235.3,3675.7 H1419.6 M1203.4,3695.4 H1404 M1175.7,3715.1 H1360.8 M1134.2,3734.8 H1315.2 M1084,3754.6 H1252.6 M1028,3774.3 H1202.3 M981,3794 H1142.8 M941.2,3813.8 H1097.9 M894.6,3833.5 H1052.9 M852.5,3853.2 H1010.4 M812.4,3872.9 H967.1 M777.8,3892.7 H920.2 M728.7,3912.4 H880.2 M695.2,3932.1 H847.3 M667.5,3951.9 H808.2 M629.9,3971.6 H778.8 M591.3,3991.3 H744.3 M568.1,4011.1 H708 M535.9,4030.8 H674.4 M514.5,4050.5 H640.1 M484,4070.2 H612 M459.8,4090 H584.3 M433.2,4109.7 H538.7 M406.2,4129.4 H495.1 M376.8,4149.2 H466"/>
<path class="cp k" d="M672.6,2973.1 v24 M806.9,2973.1 v24 M672.6,2992.8 v24 M806.9,2992.8 v24 M673.5,3012.6 v24 M806.1,3012.6 v24 M673.5,3032.3 v24 M804,3032.3 v24 M673.5,3052 v24 M804,3052 v24 M674.4,3071.8 v24 M804,3071.8 v24 M675.5,3091.5 v24 M803.2,3091.5 v24 M675.4,3111.2 v24 M802,3111.2 v24 M677.5,3130.9 v24 M800.4,3130.9 v24 M686.5,3150.7 v24 M797.8,3150.7 v24 M702,3170.4 v24 M793,3170.4 v24 M709.6,3190.1 v24 M793,3190.1 v24 M720,3209.9 v24 M799.9,3209.9 v24 M734.2,3229.6 v24 M825.8,3229.6 v24 M732,3249.3 v24 M883.6,3249.3 v24 M737.1,3269 v24 M952.8,3269 v24 M754.4,3288.8 v24 M1021,3288.8 v24 M789.2,3308.5 v24 M1105.1,3308.5 v24 M857.3,3328.2 v24 M1215.5,3328.2 v24 M906,3348 v24 M1320.6,3348 v24 M965,3367.7 v24 M1404.1,3367.7 v24 M1041.8,3387.4 v24 M1471.9,3387.4 v24 M1172.3,3407.2 v24 M1526.6,3407.2 v24 M1277,3426.9 v24 M1551,3426.9 v24 M1360.5,3446.6 v24 M1553.3,3446.6 v24 M1412.6,3466.3 v24 M1545,3466.3 v24 M1468.3,3486.1 v24 M1535.3,3486.1 v24 M1459.6,3505.8 v24 M1537.3,3505.8 v24 M1444.2,3525.5 v24 M1528,3525.5 v24 M1431.6,3545.3 v24 M1518.8,3545.3 v24 M1406.3,3565 v24 M1505.5,3565 v24 M1366,3584.7 v24 M1497.4,3584.7 v24 M1339.4,3604.5 v24 M1485.3,3604.5 v24 M1308.2,3624.2 v24 M1461.1,3624.2 v24 M1266.4,3643.9 v24 M1436.9,3643.9 v24 M1235.3,3663.7 v24 M1419.6,3663.7 v24 M1203.4,3683.4 v24 M1404,3683.4 v24 M1175.7,3703.1 v24 M1360.8,3703.1 v24 M1134.2,3722.8 v24 M1315.2,3722.8 v24 M1084,3742.6 v24 M1252.6,3742.6 v24 M1028,3762.3 v24 M1202.3,3762.3 v24 M981,3782 v24 M1142.8,3782 v24 M941.2,3801.8 v24 M1097.9,3801.8 v24 M894.6,3821.5 v24 M1052.9,3821.5 v24 M852.5,3841.2 v24 M1010.4,3841.2 v24 M812.4,3860.9 v24 M967.1,3860.9 v24 M777.8,3880.7 v24 M920.2,3880.7 v24 M728.7,3900.4 v24 M880.2,3900.4 v24 M695.2,3920.1 v24 M847.3,3920.1 v24 M667.5,3939.9 v24 M808.2,3939.9 v24 M629.9,3959.6 v24 M778.8,3959.6 v24 M591.3,3979.3 v24 M744.3,3979.3 v24 M568.1,3999.1 v24 M708,3999.1 v24 M535.9,4018.8 v24 M674.4,4018.8 v24 M514.5,4038.5 v24 M640.1,4038.5 v24 M484,4058.2 v24 M612,4058.2 v24 M459.8,4078 v24 M584.3,4078 v24 M433.2,4097.7 v24 M538.7,4097.7 v24 M406.2,4117.4 v24 M495.1,4117.4 v24 M376.8,4137.2 v24 M466,4137.2 v24"/>
<path class="mean k" d="M739.8,2985.1 L739.7,2987.2 L739.7,2990.2 L739.7,2993.7 L739.7,2997.5 L739.7,3001.3 L739.8,3004.8 L739.8,3008.1 L739.8,3011.4 L739.8,3014.7 L739.9,3018 L739.9,3021.3 L739.8,3024.6 L739.7,3027.8 L739.5,3031.1 L739.3,3034.4 L739.1,3037.7 L738.9,3041 L738.8,3044.3 L738.7,3047.6 L738.7,3050.9 L738.7,3054.2 L738.7,3057.4 L738.7,3060.7 L738.8,3064 L738.8,3067.3 L738.9,3070.6 L739,3073.9 L739.1,3077.2 L739.1,3080.5 L739.2,3083.8 L739.3,3087 L739.3,3090.3 L739.3,3093.6 L739.4,3096.9 L739.4,3100.2 L739.4,3103.5 L739.3,3106.8 L739.2,3110.1 L739,3113.3 L738.9,3116.6 L738.8,3119.9 L738.7,3123.2 L738.7,3126.5 L738.6,3129.8 L738.6,3133.1 L738.6,3136.4 L738.7,3139.7 L739,3142.9 L739.3,3146.2 L739.7,3149.5 L740.2,3152.8 L740.8,3156.1 L741.5,3159.4 L742.1,3162.7 L742.9,3166 L743.8,3169.2 L744.8,3172.5 L745.8,3175.8 L746.7,3179.1 L747.5,3182.4 L748.2,3185.7 L748.7,3189 L749.2,3192.3 L749.7,3195.6 L750.4,3198.8 L751.3,3202.1 L752.3,3205.4 L753.4,3208.7 L754.6,3212 L756,3215.3 L757.8,3218.6 L760,3221.9 L762.5,3225.1 L765.5,3228.4 L768.8,3231.7 L772.3,3235 L776.1,3238.3 L780,3241.6 L784.1,3244.9 L788.3,3248.2 L792.8,3251.5 L797.6,3254.7 L802.5,3258 L807.8,3261.3 L813.4,3264.6 L819.3,3267.9 L825.4,3271.2 L831.8,3274.5 L838.3,3277.8 L845,3281 L851.6,3284.3 L858.2,3287.6 L864.9,3290.9 L872,3294.2 L879.5,3297.5 L887.7,3300.8 L896.3,3304.1 L905.2,3307.4 L914.5,3310.6 L924.5,3313.9 L935.3,3317.2 L947.1,3320.5 L960.4,3323.8 L975.1,3327.1 L990.7,3330.4 L1006.5,3333.7 L1021.9,3337 L1036.4,3340.2 L1050,3343.5 L1063.2,3346.8 L1076,3350.1 L1088.5,3353.4 L1101,3356.7 L1113.3,3360 L1125.5,3363.3 L1137.4,3366.5 L1149.2,3369.8 L1160.9,3373.1 L1172.7,3376.4 L1184.5,3379.7 L1196.3,3383 L1207.8,3386.3 L1219.4,3389.6 L1231.2,3392.9 L1243.6,3396.1 L1256.8,3399.4 L1271.4,3402.7 L1287.3,3406 L1303.6,3409.3 L1319.9,3412.6 L1335.4,3415.9 L1349.4,3419.2 L1362.1,3422.4 L1373.8,3425.7 L1384.8,3429 L1395.1,3432.3 L1404.8,3435.6 L1414,3438.9 L1422.6,3442.2 L1430.7,3445.5 L1438.1,3448.8 L1445,3452 L1451.2,3455.3 L1456.9,3458.6 L1461.8,3461.9 L1465.7,3465.2 L1469.1,3468.5 L1472.2,3471.8 L1475.3,3475.1 L1478.8,3478.3 L1482.9,3481.6 L1487.4,3484.9 L1491.9,3488.2 L1496,3491.5 L1499.5,3494.8 L1501.8,3498.1 L1502.9,3501.4 L1503,3504.7 L1502.3,3507.9 L1501.2,3511.2 L1499.8,3514.5 L1498.4,3517.8 L1496.9,3521.1 L1494.9,3524.4 L1492.7,3527.7 L1490.4,3531 L1488.2,3534.3 L1486.1,3537.5 L1484.3,3540.8 L1482.7,3544.1 L1481.1,3547.4 L1479.4,3550.7 L1477.5,3554 L1475.2,3557.3 L1472.5,3560.6 L1469.6,3563.8 L1466.4,3567.1 L1463,3570.4 L1459.5,3573.7 L1455.9,3577 L1452.1,3580.3 L1448,3583.6 L1443.8,3586.9 L1439.6,3590.2 L1435.5,3593.4 L1431.7,3596.7 L1428.3,3600 L1425.2,3603.3 L1422.2,3606.6 L1419.2,3609.9 L1416,3613.2 L1412.3,3616.5 L1408.3,3619.7 L1403.9,3623 L1399.4,3626.3 L1394.6,3629.6 L1389.7,3632.9 L1384.7,3636.2 L1379.4,3639.5 L1373.7,3642.8 L1367.9,3646.1 L1362.2,3649.3 L1356.7,3652.6 L1351.7,3655.9 L1347.1,3659.2 L1342.9,3662.5 L1339,3665.8 L1335.2,3669.1 L1331.4,3672.4 L1327.4,3675.7 L1323.6,3678.9 L1319.9,3682.2 L1316.3,3685.5 L1312.5,3688.8 L1308.3,3692.1 L1303.7,3695.4 L1298.6,3698.7 L1293.1,3702 L1287.2,3705.2 L1281.1,3708.5 L1274.8,3711.8 L1268.2,3715.1 L1261.6,3718.4 L1254.8,3721.7 L1247.8,3725 L1240.5,3728.3 L1232.8,3731.6 L1224.7,3734.8 L1216,3738.1 L1206.7,3741.4 L1197.1,3744.7 L1187.3,3748 L1177.7,3751.3 L1168.3,3754.6 L1159.3,3757.9 L1150.3,3761.1 L1141.5,3764.4 L1132.8,3767.7 L1124,3771 L1115.2,3774.3 L1106.2,3777.6 L1097,3780.9 L1087.9,3784.2 L1078.8,3787.5 L1070.1,3790.7 L1061.9,3794 L1054.3,3797.3 L1047.1,3800.6 L1040.3,3803.9 L1033.5,3807.2 L1026.7,3810.5 L1019.6,3813.8 L1012.1,3817 L1004.4,3820.3 L996.6,3823.6 L988.9,3826.9 L981.2,3830.2 L973.8,3833.5 L966.5,3836.8 L959.4,3840.1 L952.3,3843.4 L945.4,3846.6 L938.4,3849.9 L931.5,3853.2 L924.5,3856.5 L917.5,3859.8 L910.5,3863.1 L903.6,3866.4 L896.6,3869.7 L889.8,3872.9 L882.9,3876.2 L876.2,3879.5 L869.6,3882.8 L862.8,3886.1 L856,3889.4 L849,3892.7 L841.7,3896 L834,3899.3 L826.3,3902.5 L818.6,3905.8 L811.3,3909.1 L804.5,3912.4 L798.3,3915.7 L792.6,3919 L787.2,3922.3 L781.9,3925.6 L776.7,3928.9 L771.2,3932.1 L765.7,3935.4 L760.1,3938.7 L754.6,3942 L749,3945.3 L743.4,3948.6 L737.9,3951.9 L732.3,3955.2 L726.8,3958.4 L721.3,3961.7 L715.7,3965 L710.1,3968.3 L704.3,3971.6 L698.4,3974.9 L692.1,3978.2 L685.8,3981.5 L679.6,3984.8 L673.5,3988 L667.8,3991.3 L662.5,3994.6 L657.5,3997.9 L652.7,4001.2 L647.9,4004.5 L643.1,4007.8 L638,4011.1 L632.7,4014.3 L627.1,4017.6 L621.5,4020.9 L615.9,4024.2 L610.4,4027.5 L605.1,4030.8 L600.2,4034.1 L595.5,4037.4 L591,4040.7 L586.5,4043.9 L582,4047.2 L577.3,4050.5 L572.5,4053.8 L567.5,4057.1 L562.5,4060.4 L557.6,4063.7 L552.7,4067 L548,4070.2 L543.6,4073.5 L539.5,4076.8 L535.4,4080.1 L531.3,4083.4 L526.9,4086.7 L522,4090 L516.6,4093.3 L510.7,4096.6 L504.6,4099.8 L498.3,4103.1 L492,4106.4 L486,4109.7 L480,4113 L473.9,4116.3 L467.9,4119.6 L461.9,4122.9 L456.2,4126.2 L450.6,4129.4 L445.3,4132.8 L440.1,4136.3 L435,4139.7 L430.1,4143.1 L425.6,4146.3 L421.4,4149.2 L417.5,4151.9 L413.7,4154.4 L410.3,4156.8 L407.2,4158.9 L404.7,4160.7 L402.8,4162"/>
<path class="eb m" d="M629.4,2986.8 H756.5 M629.4,3006.5 H756.5 M629.4,3026.3 H756.5 M630.3,3046 H756.5 M641.8,3065.7 H757.9 M646.7,3085.4 H767.1 M643.8,3105.2 H780.7 M640.3,3124.9 H806.8 M643,3144.6 H835 M650.8,3164.4 H842.1 M669.2,3184.1 H850 M685.4,3203.8 H864.6 M735.6,3223.6 H885.3 M790.2,3243.3 H922 M837.9,3263 H976.1 M883.3,3282.7 H1008.9 M927,3302.5 H1050.4 M981.2,3322.2 H1084 M1028,3341.9 H1142.1 M1097.8,3361.7 H1247.2 M1166.5,3381.4 H1358.5 M1273.8,3401.1 H1478.7 M1337.5,3420.9 H1529.1 M1397.2,3440.6 H1550.3 M1477.3,3460.3 H1545 M1533.2,3480 H1553.6 M1533.2,3499.8 H1559.3 M1522.1,3519.5 H1562.2 M1498,3539.2 H1562.2 M1479,3559 H1544.1 M1458.1,3578.7 H1521.7 M1434.1,3598.4 H1499.1 M1405.8,3618.2 H1472.2 M1382.2,3637.9 H1445.5 M1363.2,3657.6 H1419.6 M1331.4,3677.3 H1387.8 M1284,3697.1 H1349.4 M1238,3716.8 H1304.8 M1186.7,3736.5 H1255.3 M1141.1,3756.3 H1212.7 M1105.5,3776 H1174 M1064.3,3795.7 H1143 M1014.2,3815.5 H1097.9 M945.7,3835.2 H1079.9 M892.9,3854.9 H1056.4 M852.5,3874.6 H1039.8 M815.2,3894.4 H988.2 M778.8,3914.1 H934 M740.1,3933.8 H886.7 M703.8,3953.6 H835.9 M656.8,3973.3 H805.5 M613.6,3993 H753.9 M582.2,4012.8 H699.3 M535.9,4032.5 H653.3 M486.5,4052.2 H610.3 M438,4071.9 H572.2 M402.8,4091.7 H518.6 M375.1,4111.4 H469.5 M345.7,4131.1 H439.1 M313.9,4150.9 H412.4"/>
<path class="cp m" d="M629.4,2974.8 v24 M756.5,2974.8 v24 M629.4,2994.5 v24 M756.5,2994.5 v24 M629.4,3014.3 v24 M756.5,3014.3 v24 M630.3,3034 v24 M756.5,3034 v24 M641.8,3053.7 v24 M757.9,3053.7 v24 M646.7,3073.4 v24 M767.1,3073.4 v24 M643.8,3093.2 v24 M780.7,3093.2 v24 M640.3,3112.9 v24 M806.8,3112.9 v24 M643,3132.6 v24 M835,3132.6 v24 M650.8,3152.4 v24 M842.1,3152.4 v24 M669.2,3172.1 v24 M850,3172.1 v24 M685.4,3191.8 v24 M864.6,3191.8 v24 M735.6,3211.6 v24 M885.3,3211.6 v24 M790.2,3231.3 v24 M922,3231.3 v24 M837.9,3251 v24 M976.1,3251 v24 M883.3,3270.7 v24 M1008.9,3270.7 v24 M927,3290.5 v24 M1050.4,3290.5 v24 M981.2,3310.2 v24 M1084,3310.2 v24 M1028,3329.9 v24 M1142.1,3329.9 v24 M1097.8,3349.7 v24 M1247.2,3349.7 v24 M1166.5,3369.4 v24 M1358.5,3369.4 v24 M1273.8,3389.1 v24 M1478.7,3389.1 v24 M1337.5,3408.9 v24 M1529.1,3408.9 v24 M1397.2,3428.6 v24 M1550.3,3428.6 v24 M1477.3,3448.3 v24 M1545,3448.3 v24 M1533.2,3468 v24 M1553.6,3468 v24 M1533.2,3487.8 v24 M1559.3,3487.8 v24 M1522.1,3507.5 v24 M1562.2,3507.5 v24 M1498,3527.2 v24 M1562.2,3527.2 v24 M1479,3547 v24 M1544.1,3547 v24 M1458.1,3566.7 v24 M1521.7,3566.7 v24 M1434.1,3586.4 v24 M1499.1,3586.4 v24 M1405.8,3606.2 v24 M1472.2,3606.2 v24 M1382.2,3625.9 v24 M1445.5,3625.9 v24 M1363.2,3645.6 v24 M1419.6,3645.6 v24 M1331.4,3665.3 v24 M1387.8,3665.3 v24 M1284,3685.1 v24 M1349.4,3685.1 v24 M1238,3704.8 v24 M1304.8,3704.8 v24 M1186.7,3724.5 v24 M1255.3,3724.5 v24 M1141.1,3744.3 v24 M1212.7,3744.3 v24 M1105.5,3764 v24 M1174,3764 v24 M1064.3,3783.7 v24 M1143,3783.7 v24 M1014.2,3803.5 v24 M1097.9,3803.5 v24 M945.7,3823.2 v24 M1079.9,3823.2 v24 M892.9,3842.9 v24 M1056.4,3842.9 v24 M852.5,3862.6 v24 M1039.8,3862.6 v24 M815.2,3882.4 v24 M988.2,3882.4 v24 M778.8,3902.1 v24 M934,3902.1 v24 M740.1,3921.8 v24 M886.7,3921.8 v24 M703.8,3941.6 v24 M835.9,3941.6 v24 M656.8,3961.3 v24 M805.5,3961.3 v24 M613.6,3981 v24 M753.9,3981 v24 M582.2,4000.8 v24 M699.3,4000.8 v24 M535.9,4020.5 v24 M653.3,4020.5 v24 M486.5,4040.2 v24 M610.3,4040.2 v24 M438,4059.9 v24 M572.2,4059.9 v24 M402.8,4079.7 v24 M518.6,4079.7 v24 M375.1,4099.4 v24 M469.5,4099.4 v24 M345.7,4119.1 v24 M439.1,4119.1 v24 M313.9,4138.9 v24 M412.4,4138.9 v24"/>
<path class="mean m" d="M693,2986.8 L693,2988.9 L693,2991.9 L693,2995.4 L693,2999.2 L693,3003 L693,3006.5 L692.9,3009.8 L692.9,3013.1 L692.9,3016.4 L692.9,3019.7 L692.9,3023 L693,3026.3 L692.9,3029.5 L692.8,3032.8 L692.8,3036.1 L692.8,3039.4 L693,3042.7 L693.4,3046 L694.1,3049.3 L695.1,3052.6 L696.2,3055.9 L697.4,3059.1 L698.7,3062.4 L699.8,3065.7 L701,3069 L702.2,3072.3 L703.4,3075.6 L704.7,3078.9 L705.8,3082.2 L706.9,3085.4 L707.8,3088.7 L708.6,3092 L709.3,3095.3 L710.1,3098.6 L711,3101.9 L712.2,3105.2 L713.7,3108.5 L715.4,3111.8 L717.3,3115 L719.3,3118.3 L721.4,3121.6 L723.5,3124.9 L726,3128.2 L728.7,3131.5 L731.5,3134.8 L734.3,3138.1 L736.8,3141.4 L739,3144.6 L740.6,3147.9 L741.9,3151.2 L742.9,3154.5 L743.8,3157.8 L745,3161.1 L746.5,3164.4 L748.3,3167.7 L750.3,3170.9 L752.5,3174.2 L754.8,3177.5 L757.2,3180.8 L759.6,3184.1 L761.8,3187.4 L763.8,3190.7 L765.9,3194 L768.3,3197.3 L771.2,3200.5 L775,3203.8 L779.6,3207.1 L785,3210.4 L790.8,3213.7 L797.1,3217 L803.7,3220.3 L810.5,3223.6 L817.4,3226.8 L824.7,3230.1 L832.3,3233.4 L840.1,3236.7 L848.1,3240 L856.1,3243.3 L864.4,3246.6 L873.1,3249.9 L882,3253.2 L890.7,3256.4 L899.1,3259.7 L907,3263 L914.2,3266.3 L920.8,3269.6 L927.1,3272.9 L933.2,3276.2 L939.5,3279.5 L946.1,3282.7 L953,3286 L960,3289.3 L967.1,3292.6 L974.3,3295.9 L981.5,3299.2 L988.7,3302.5 L995.8,3305.8 L1002.9,3309.1 L1010,3312.3 L1017.3,3315.6 L1024.8,3318.9 L1032.6,3322.2 L1040.4,3325.5 L1048.2,3328.8 L1056.1,3332.1 L1064.7,3335.4 L1074.2,3338.7 L1085,3341.9 L1097.6,3345.2 L1111.5,3348.5 L1126.4,3351.8 L1141.9,3355.1 L1157.4,3358.4 L1172.5,3361.7 L1187.1,3365 L1201.4,3368.2 L1215.9,3371.5 L1230.6,3374.8 L1246.1,3378.1 L1262.5,3381.4 L1280.7,3384.7 L1300.8,3388 L1321.4,3391.3 L1341.7,3394.6 L1360.3,3397.8 L1376.2,3401.1 L1389.2,3404.4 L1400.1,3407.7 L1409.4,3411 L1417.6,3414.3 L1425.4,3417.6 L1433.3,3420.9 L1441,3424.1 L1448.1,3427.4 L1454.8,3430.7 L1461.1,3434 L1467.4,3437.3 L1473.8,3440.6 L1480.2,3443.9 L1486.6,3447.2 L1493,3450.5 L1499.2,3453.7 L1505.2,3457 L1511.2,3460.3 L1517.2,3463.6 L1523.4,3466.9 L1529.4,3470.2 L1535,3473.5 L1539.8,3476.8 L1543.4,3480 L1545.7,3483.3 L1546.8,3486.6 L1547.1,3489.9 L1546.9,3493.2 L1546.5,3496.5 L1546.2,3499.8 L1546.1,3503.1 L1545.7,3506.4 L1545.1,3509.6 L1544.4,3512.9 L1543.4,3516.2 L1542.2,3519.5 L1540.7,3522.8 L1539,3526.1 L1537,3529.4 L1534.9,3532.7 L1532.6,3536 L1530.1,3539.2 L1527.4,3542.5 L1524.5,3545.8 L1521.4,3549.1 L1518.2,3552.4 L1514.9,3555.7 L1511.5,3559 L1508.1,3562.3 L1504.6,3565.5 L1501,3568.8 L1497.4,3572.1 L1493.6,3575.4 L1489.9,3578.7 L1486.2,3582 L1482.4,3585.3 L1478.6,3588.6 L1474.7,3591.9 L1470.8,3595.1 L1466.6,3598.4 L1462.2,3601.7 L1457.6,3605 L1452.9,3608.3 L1448.2,3611.6 L1443.5,3614.9 L1439,3618.2 L1434.6,3621.4 L1430.3,3624.7 L1426.1,3628 L1421.9,3631.3 L1417.9,3634.6 L1413.8,3637.9 L1410.1,3641.2 L1406.5,3644.5 L1403,3647.8 L1399.5,3651 L1395.7,3654.3 L1391.4,3657.6 L1386.8,3660.9 L1381.9,3664.2 L1376.8,3667.5 L1371.4,3670.8 L1365.7,3674.1 L1359.6,3677.3 L1353.1,3680.6 L1346.2,3683.9 L1339,3687.2 L1331.6,3690.5 L1324.1,3693.8 L1316.7,3697.1 L1309.3,3700.4 L1302,3703.7 L1294.5,3706.9 L1287,3710.2 L1279.3,3713.5 L1271.4,3716.8 L1263.2,3720.1 L1254.7,3723.4 L1246.1,3726.7 L1237.5,3730 L1229.1,3733.3 L1221,3736.5 L1213.2,3739.8 L1205.6,3743.1 L1198.1,3746.4 L1190.9,3749.7 L1183.8,3753 L1176.9,3756.3 L1170.3,3759.6 L1164,3762.8 L1157.8,3766.1 L1151.8,3769.4 L1145.8,3772.7 L1139.8,3776 L1133.8,3779.3 L1128.1,3782.6 L1122.4,3785.9 L1116.5,3789.2 L1110.3,3792.4 L1103.7,3795.7 L1096.3,3799 L1088.5,3802.3 L1080.3,3805.6 L1072,3808.9 L1063.9,3812.2 L1056.1,3815.5 L1048.5,3818.7 L1041.1,3822 L1033.8,3825.3 L1026.7,3828.6 L1019.7,3831.9 L1012.8,3835.2 L1006,3838.5 L999.3,3841.8 L992.8,3845.1 L986.5,3848.3 L980.4,3851.6 L974.7,3854.9 L969.5,3858.2 L965,3861.5 L960.8,3864.8 L956.5,3868.1 L951.7,3871.4 L946.1,3874.6 L939.7,3877.9 L932.5,3881.2 L925,3884.5 L917.2,3887.8 L909.3,3891.1 L901.7,3894.4 L894.2,3897.7 L886.6,3901 L879,3904.2 L871.4,3907.5 L863.8,3910.8 L856.4,3914.1 L849.1,3917.4 L841.9,3920.7 L834.8,3924 L827.7,3927.3 L820.6,3930.6 L813.4,3933.8 L806.1,3937.1 L798.7,3940.4 L791.4,3943.7 L784,3947 L776.8,3950.3 L769.8,3953.6 L763.2,3956.9 L756.9,3960.1 L750.7,3963.4 L744.5,3966.7 L738,3970 L731.1,3973.3 L723.7,3976.6 L715.8,3979.9 L707.7,3983.2 L699.5,3986.5 L691.5,3989.7 L683.8,3993 L676.4,3996.3 L669.2,3999.6 L662.2,4002.9 L655.2,4006.2 L648,4009.5 L640.8,4012.8 L633.2,4016 L625.6,4019.3 L617.9,4022.6 L610.1,4025.9 L602.3,4029.2 L594.6,4032.5 L586.9,4035.8 L579.1,4039.1 L571.3,4042.4 L563.6,4045.6 L555.9,4048.9 L548.4,4052.2 L541,4055.5 L533.8,4058.8 L526.6,4062.1 L519.5,4065.4 L512.3,4068.7 L505.1,4071.9 L497.7,4075.2 L490.2,4078.5 L482.6,4081.8 L475.1,4085.1 L467.8,4088.4 L460.7,4091.7 L453.9,4095 L447.1,4098.3 L440.6,4101.5 L434.2,4104.8 L428.1,4108.1 L422.3,4111.4 L416.8,4114.7 L411.7,4118 L406.8,4121.3 L402,4124.6 L397.2,4127.9 L392.4,4131.1 L387.5,4134.5 L382.7,4137.9 L377.9,4141.3 L373,4144.6 L368.1,4147.8 L363.1,4150.9 L357.7,4153.8 L351.8,4156.8 L345.7,4159.7 L340.1,4162.2 L335.4,4164.4 L332,4166"/>
<text class="tl" x="176.6" y="4232.5" text-anchor="middle">36.2</text>
<text class="tl" x="428.3" y="4232.5" text-anchor="middle">36.4</text>
<text class="tl" x="680.1" y="4232.5" text-anchor="middle">36.6</text>
<text class="tl" x="931.8" y="4232.5" text-anchor="middle">36.8</text>
<text class="tl" x="1183.5" y="4232.5" text-anchor="middle">37</text>
<text class="tl" x="1435.3" y="4232.5" text-anchor="middle">37.2</text>
<text class="tl" x="1687" y="4232.5" text-anchor="middle">37.4</text>
<text class="tl" x="157.9" y="2995.5" text-anchor="end">0</text>
<text class="tl" x="157.9" y="3193.9" text-anchor="end">50</text>
<text class="tl" x="157.9" y="3392.6" text-anchor="end">100</text>
<text class="tl" x="157.9" y="3592.9" text-anchor="end">150</text>
<text class="tl" x="157.9" y="3791.2" text-anchor="end">200</text>
<text class="tl" x="157.9" y="3988.4" text-anchor="end">250</text>
<text class="tl" x="157.9" y="4186.7" text-anchor="end">300</text>
<text class="tt" x="931.2" y="2957.2" text-anchor="middle">(c)</text>
<text class="al" transform="translate(53.5,3572.9) rotate(-90)" text-anchor="middle">[m]</text>
<text class="al" x="930.8" y="4298.7" text-anchor="middle" style="letter-spacing:-0.8px">[PSU]</text>
<g class="legend" transform="translate(1246.1,3006.5)">
<rect class="lb" x="0" y="0" width="413.5" height="228.2"/>
<g transform="translate(2,0)">
<path class="eb k" d="M38,33.2 H90.5"/>
<path class="cp k" d="M37.8,21.2 v24 M90.4,21.2 v24"/>
<path class="ic k" d="M13,53.8 L15.5,53.8 L19,53.8 L22.9,53.8 L26.5,53.5 L29.6,53.1 L32.5,52.6 L35.4,51.8 L38.6,50.7 L42.2,49.1 L46.1,47.1 L49.9,44.9 L53.4,42.6 L56.4,40.2 L59.1,37.7 L61.6,35.1 L64.2,32.5 L66.9,29.8 L69.6,26.9 L72.2,24.2 L74.9,21.8 L77.7,19.8 L80.5,18 L83.3,16.5 L85.7,15.1 L87.6,13.9 L89.2,12.9 L90.8,12.2 L92.4,11.6 L94,11.3 L95.5,11.3 L97.4,11.4 L100,11.4 L104.2,11.4 L109.4,11.4 L114.4,11.4 L117.9,11.4"/>
</g>
<text class="lt" x="128.5" y="46.8">shallow sdv</text>
<g transform="translate(2,0)">
<path class="mean k" d="M12.5,87.1 H117"/>
</g>
<text class="lt" x="128.5" y="100.7">shallow mean</text>
<g transform="translate(2,0)">
<path class="eb m" d="M38,141 H90.5"/>
<path class="cp m" d="M37.8,129 v24 M90.4,129 v24"/>
<path class="ic m" d="M13,161.6 L15.5,161.6 L19,161.6 L22.9,161.6 L26.5,161.3 L29.6,160.9 L32.5,160.4 L35.4,159.6 L38.6,158.5 L42.2,156.9 L46.1,154.9 L49.9,152.7 L53.4,150.4 L56.4,148 L59.1,145.5 L61.6,142.9 L64.2,140.3 L66.9,137.6 L69.6,134.7 L72.2,132 L74.9,129.6 L77.7,127.6 L80.5,125.8 L83.3,124.3 L85.7,122.9 L87.6,121.7 L89.2,120.7 L90.8,120 L92.4,119.4 L94,119.1 L95.5,119.1 L97.4,119.2 L100,119.2 L104.2,119.2 L109.4,119.2 L114.4,119.2 L117.9,119.2"/>
</g>
<text class="lt" x="128.5" y="154.6">deep sdv</text>
<g transform="translate(2,0)">
<path class="mean m" d="M12.5,194.9 H117"/>
</g>
<text class="lt" x="128.5" y="208.5">deep mean</text>
</g>
</g>
</svg>
</body></html>
